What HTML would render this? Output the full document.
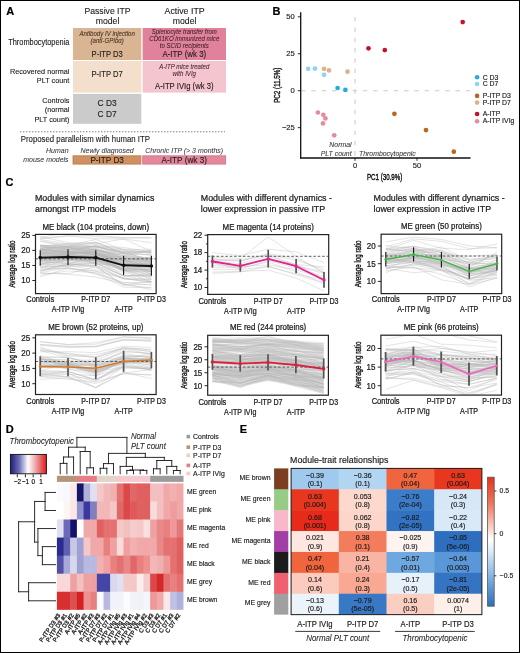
<!DOCTYPE html>
<html><head><meta charset="utf-8"><title>Figure</title><style>html,body{margin:0;padding:0;background:#fff;}body{width:520px;height:653px;overflow:hidden;}svg{display:block;will-change:transform;font-family:"Liberation Sans", sans-serif;}</style></head><body>
<svg width="520" height="653" viewBox="0 0 520 653" font-family='"Liberation Sans", sans-serif'><rect x="0.00" y="0.00" width="520.00" height="653.00" fill="#fff"/>
<text x="6.20" y="14.60" font-size="11" font-weight="bold" fill="#000" stroke="#000" stroke-width="0.20">A</text>
<text x="272.50" y="14.60" font-size="11" font-weight="bold" fill="#000" stroke="#000" stroke-width="0.20">B</text>
<text x="5.50" y="186.30" font-size="11" font-weight="bold" fill="#000" stroke="#000" stroke-width="0.20">C</text>
<text x="5.80" y="433.20" font-size="11" font-weight="bold" fill="#000" stroke="#000" stroke-width="0.20">D</text>
<text x="239.80" y="433.20" font-size="11" font-weight="bold" fill="#000" stroke="#000" stroke-width="0.20">E</text>
<text transform="translate(107.50,14.20) scale(1,1.1)" font-size="8.7" text-anchor="middle" fill="#1a1a1a" stroke="#1a1a1a" stroke-width="0.10" textLength="46" lengthAdjust="spacingAndGlyphs">Passive ITP</text>
<text transform="translate(107.50,24.00) scale(1,1.1)" font-size="8.7" text-anchor="middle" fill="#1a1a1a" stroke="#1a1a1a" stroke-width="0.10">model</text>
<text transform="translate(184.60,14.20) scale(1,1.1)" font-size="8.7" text-anchor="middle" fill="#1a1a1a" stroke="#1a1a1a" stroke-width="0.10" textLength="40" lengthAdjust="spacingAndGlyphs">Active ITP</text>
<text transform="translate(184.60,24.00) scale(1,1.1)" font-size="8.7" text-anchor="middle" fill="#1a1a1a" stroke="#1a1a1a" stroke-width="0.10">model</text>
<rect x="73.00" y="28.00" width="68.30" height="32.00" fill="#dab593"/>
<rect x="142.60" y="28.00" width="83.40" height="32.00" fill="#e0839a"/>
<rect x="73.00" y="61.00" width="68.30" height="31.60" fill="#f3dfcb"/>
<rect x="142.60" y="61.00" width="83.40" height="31.60" fill="#f4c5cf"/>
<rect x="73.00" y="93.90" width="68.30" height="29.90" fill="#cbcbcc"/>
<text transform="translate(107.15,35.60) scale(1,1.1)" font-size="6.1" text-anchor="middle" font-style="italic" fill="#3a2a1a" stroke="#3a2a1a" stroke-width="0.04" textLength="55.3" lengthAdjust="spacingAndGlyphs">Antibody IV injection</text>
<text transform="translate(107.15,42.50) scale(1,1.1)" font-size="6.1" text-anchor="middle" font-style="italic" fill="#3a2a1a" stroke="#3a2a1a" stroke-width="0.04">(anti-GPIbα)</text>
<text transform="translate(107.15,56.90) scale(1,1.1)" font-size="8.4" text-anchor="middle" fill="#1a1a1a" stroke="#1a1a1a" stroke-width="0.10" textLength="31.2" lengthAdjust="spacingAndGlyphs">P-ITP D3</text>
<text transform="translate(184.30,33.90) scale(1,1.1)" font-size="6.1" text-anchor="middle" font-style="italic" fill="#3a1a22" stroke="#3a1a22" stroke-width="0.04" textLength="65" lengthAdjust="spacingAndGlyphs">Splenocyte transfer from</text>
<text transform="translate(184.30,40.90) scale(1,1.1)" font-size="6.1" text-anchor="middle" font-style="italic" fill="#3a1a22" stroke="#3a1a22" stroke-width="0.04" textLength="70" lengthAdjust="spacingAndGlyphs">CD61KO immunized mice</text>
<text transform="translate(184.30,47.80) scale(1,1.1)" font-size="6.1" text-anchor="middle" font-style="italic" fill="#3a1a22" stroke="#3a1a22" stroke-width="0.04">to SCID recipients</text>
<text transform="translate(184.30,57.00) scale(1,1.1)" font-size="8.4" text-anchor="middle" fill="#1a1a1a" stroke="#1a1a1a" stroke-width="0.10" textLength="43.7" lengthAdjust="spacingAndGlyphs">A-ITP (wk 3)</text>
<text transform="translate(107.15,77.40) scale(1,1.1)" font-size="8.4" text-anchor="middle" fill="#1a1a1a" stroke="#1a1a1a" stroke-width="0.10" textLength="31.4" lengthAdjust="spacingAndGlyphs">P-ITP D7</text>
<text transform="translate(184.30,68.80) scale(1,1.1)" font-size="6.1" text-anchor="middle" font-style="italic" fill="#3a1a22" stroke="#3a1a22" stroke-width="0.04" textLength="49.9" lengthAdjust="spacingAndGlyphs">A-ITP mice treated</text>
<text transform="translate(184.30,75.50) scale(1,1.1)" font-size="6.1" text-anchor="middle" font-style="italic" fill="#3a1a22" stroke="#3a1a22" stroke-width="0.04">with IVIg</text>
<text transform="translate(184.30,88.80) scale(1,1.1)" font-size="8.4" text-anchor="middle" fill="#1a1a1a" stroke="#1a1a1a" stroke-width="0.10" textLength="58.5" lengthAdjust="spacingAndGlyphs">A-ITP IVIg (wk 3)</text>
<text transform="translate(107.15,106.30) scale(1,1.1)" font-size="8.4" text-anchor="middle" fill="#1a1a1a" stroke="#1a1a1a" stroke-width="0.10">C D3</text>
<text transform="translate(107.15,116.50) scale(1,1.1)" font-size="8.4" text-anchor="middle" fill="#1a1a1a" stroke="#1a1a1a" stroke-width="0.10">C D7</text>
<text transform="translate(69.40,44.90) scale(1,1.1)" font-size="7.4" text-anchor="end" fill="#1a1a1a" stroke="#1a1a1a" stroke-width="0.10">Thrombocytopenia</text>
<text transform="translate(69.40,73.50) scale(1,1.1)" font-size="7.3" text-anchor="end" fill="#1a1a1a" stroke="#1a1a1a" stroke-width="0.10">Recovered normal</text>
<text transform="translate(69.40,82.60) scale(1,1.1)" font-size="7.3" text-anchor="end" fill="#1a1a1a" stroke="#1a1a1a" stroke-width="0.10">PLT count</text>
<text transform="translate(69.40,103.30) scale(1,1.1)" font-size="7.3" text-anchor="end" fill="#1a1a1a" stroke="#1a1a1a" stroke-width="0.10">Controls</text>
<text transform="translate(69.40,112.40) scale(1,1.1)" font-size="7.3" text-anchor="end" fill="#1a1a1a" stroke="#1a1a1a" stroke-width="0.10">(normal</text>
<text transform="translate(69.40,121.50) scale(1,1.1)" font-size="7.3" text-anchor="end" fill="#1a1a1a" stroke="#1a1a1a" stroke-width="0.10">PLT count)</text>
<line x1="20.3" y1="131.75" x2="225" y2="131.75" stroke="#444" stroke-width="1" stroke-dasharray="1 2"/>
<text transform="translate(20.80,141.60) scale(1,1.1)" font-size="7.8" fill="#1a1a1a" stroke="#1a1a1a" stroke-width="0.10" textLength="129.2" lengthAdjust="spacingAndGlyphs">Proposed parallelism with human ITP</text>
<text transform="translate(68.60,152.90) scale(1,1.1)" font-size="7.0" text-anchor="end" font-style="italic" fill="#333" stroke="#333" stroke-width="0.04">Human</text>
<text transform="translate(68.60,161.80) scale(1,1.1)" font-size="7.0" text-anchor="end" font-style="italic" fill="#333" stroke="#333" stroke-width="0.04" textLength="45.3" lengthAdjust="spacingAndGlyphs">mouse models</text>
<text transform="translate(107.15,152.70) scale(1,1.1)" font-size="7.0" text-anchor="middle" font-style="italic" fill="#333" stroke="#333" stroke-width="0.04">Newly diagnosed</text>
<text transform="translate(184.20,152.70) scale(1,1.1)" font-size="7.0" text-anchor="middle" font-style="italic" fill="#333" stroke="#333" stroke-width="0.04">Chronic ITP (&gt; 3 months)</text>
<rect x="73.00" y="155.80" width="67.90" height="8.30" fill="#cf9162" stroke="#b97a48" stroke-width="0.8"/>
<rect x="142.70" y="155.80" width="83.00" height="8.30" fill="#e3879b" stroke="#d5718a" stroke-width="0.8"/>
<text transform="translate(107.15,162.60) scale(1,1.1)" font-size="8.2" text-anchor="middle" fill="#1a1a1a" stroke="#1a1a1a" stroke-width="0.10">P-ITP D3</text>
<text transform="translate(184.30,162.60) scale(1,1.1)" font-size="8.2" text-anchor="middle" fill="#1a1a1a" stroke="#1a1a1a" stroke-width="0.10">A-ITP (wk 3)</text>
<line x1="355.00" y1="12.20" x2="355.00" y2="158.00" stroke="#cccccc" stroke-width="1.1" stroke-dasharray="4.5 5.8" stroke-dashoffset="5.4"/>
<line x1="301.00" y1="90.70" x2="470.50" y2="90.70" stroke="#cccccc" stroke-width="1.1" stroke-dasharray="4.5 5.8"/>
<line x1="300.70" y1="12.20" x2="300.70" y2="158.60" stroke="#111" stroke-width="1.3"/>
<line x1="300.10" y1="158.00" x2="470.50" y2="158.00" stroke="#111" stroke-width="1.3"/>
<line x1="297.80" y1="16.80" x2="300.70" y2="16.80" stroke="#111" stroke-width="0.9"/>
<text transform="translate(294.80,19.30) scale(1,0.95)" font-size="7.6" text-anchor="end" fill="#222" stroke="#222" stroke-width="0.15">50</text>
<line x1="297.80" y1="53.75" x2="300.70" y2="53.75" stroke="#111" stroke-width="0.9"/>
<text transform="translate(294.80,56.25) scale(1,0.95)" font-size="7.6" text-anchor="end" fill="#222" stroke="#222" stroke-width="0.15">25</text>
<line x1="297.80" y1="90.70" x2="300.70" y2="90.70" stroke="#111" stroke-width="0.9"/>
<text transform="translate(294.80,93.20) scale(1,0.95)" font-size="7.6" text-anchor="end" fill="#222" stroke="#222" stroke-width="0.15">0</text>
<line x1="297.80" y1="127.65" x2="300.70" y2="127.65" stroke="#111" stroke-width="0.9"/>
<text transform="translate(294.80,130.15) scale(1,0.95)" font-size="7.6" text-anchor="end" fill="#222" stroke="#222" stroke-width="0.15">−25</text>
<line x1="355.00" y1="158.00" x2="355.00" y2="160.80" stroke="#111" stroke-width="0.9"/>
<text transform="translate(355.00,167.80) scale(1,0.95)" font-size="7.6" text-anchor="middle" fill="#222" stroke="#222" stroke-width="0.15">0</text>
<line x1="417.00" y1="158.00" x2="417.00" y2="160.80" stroke="#111" stroke-width="0.9"/>
<text transform="translate(417.00,167.80) scale(1,0.95)" font-size="7.6" text-anchor="middle" fill="#222" stroke="#222" stroke-width="0.15">50</text>
<text transform="translate(384.60,180.20) scale(1,1.1)" font-size="8.2" text-anchor="middle" stroke="#111" stroke-width="0.35" textLength="35.4" lengthAdjust="spacingAndGlyphs">PC1 (30.9%)</text>
<text transform="translate(279.6,85.2) rotate(-90)" font-size="8.2" stroke="#111" stroke-width="0.35" text-anchor="middle" fill="#111" textLength="35.2" lengthAdjust="spacingAndGlyphs">PC2 (11.5%)</text>
<circle cx="308.2" cy="68.8" r="2.35" fill="#8fd3f2"/>
<circle cx="315.0" cy="68.6" r="2.35" fill="#8fd3f2"/>
<circle cx="324.1" cy="74.8" r="2.35" fill="#8fd3f2"/>
<circle cx="324.0" cy="68.8" r="2.35" fill="#dfb08b"/>
<circle cx="329.0" cy="70.4" r="2.35" fill="#dfb08b"/>
<circle cx="347.5" cy="71.7" r="2.35" fill="#dfb08b"/>
<circle cx="337.6" cy="88.0" r="2.35" fill="#29a9e1"/>
<circle cx="345.4" cy="89.9" r="2.35" fill="#29a9e1"/>
<circle cx="317.9" cy="112.5" r="2.35" fill="#e68aa0"/>
<circle cx="323.3" cy="114.8" r="2.35" fill="#e68aa0"/>
<circle cx="325.4" cy="118.4" r="2.35" fill="#e68aa0"/>
<circle cx="323.0" cy="123.4" r="2.35" fill="#e68aa0"/>
<circle cx="334.2" cy="135.3" r="2.35" fill="#e68aa0"/>
<circle cx="368.5" cy="48.3" r="2.35" fill="#c8102e"/>
<circle cx="384.8" cy="50.1" r="2.35" fill="#c8102e"/>
<circle cx="462.7" cy="22.1" r="2.35" fill="#c8102e"/>
<circle cx="394.4" cy="113.8" r="2.35" fill="#b9651f"/>
<circle cx="426.0" cy="130.1" r="2.35" fill="#b9651f"/>
<circle cx="453.8" cy="151.7" r="2.35" fill="#b9651f"/>
<text transform="translate(351.60,147.00) scale(1,1.1)" font-size="6.9" text-anchor="end" font-style="italic" fill="#333" stroke="#333" stroke-width="0.06">Normal</text>
<text transform="translate(351.60,155.80) scale(1,1.1)" font-size="6.9" text-anchor="end" font-style="italic" fill="#333" stroke="#333" stroke-width="0.06">PLT count</text>
<text transform="translate(359.00,155.80) scale(1,1.1)" font-size="6.9" font-style="italic" fill="#333" stroke="#333" stroke-width="0.06">Thrombocytopenic</text>
<circle cx="477.1" cy="77.3" r="2.3" fill="#29a9e1"/>
<text transform="translate(482.70,79.50) scale(1,1.1)" font-size="6.9" fill="#222" stroke="#222" stroke-width="0.15">C D3</text>
<circle cx="477.1" cy="84.0" r="2.3" fill="#8fd3f2"/>
<text transform="translate(482.70,86.20) scale(1,1.1)" font-size="6.9" fill="#222" stroke="#222" stroke-width="0.15">C D7</text>
<circle cx="477.1" cy="95.9" r="2.3" fill="#b9651f"/>
<text transform="translate(482.70,98.10) scale(1,1.1)" font-size="6.9" fill="#222" stroke="#222" stroke-width="0.15">P-ITP D3</text>
<circle cx="477.1" cy="102.6" r="2.3" fill="#dfb08b"/>
<text transform="translate(482.70,104.80) scale(1,1.1)" font-size="6.9" fill="#222" stroke="#222" stroke-width="0.15">P-ITP D7</text>
<circle cx="477.1" cy="114.0" r="2.3" fill="#c8102e"/>
<text transform="translate(482.70,116.20) scale(1,1.1)" font-size="6.9" fill="#222" stroke="#222" stroke-width="0.15">A-ITP</text>
<circle cx="477.1" cy="121.2" r="2.3" fill="#e68aa0"/>
<text transform="translate(482.70,123.40) scale(1,1.1)" font-size="6.9" fill="#222" stroke="#222" stroke-width="0.15">A-ITP IVIg</text>
<text transform="translate(35.00,201.00) scale(1,1.1)" font-size="8.85" fill="#1a1a1a" stroke="#1a1a1a" stroke-width="0.22">Modules with similar dynamics</text>
<text transform="translate(35.00,212.00) scale(1,1.1)" font-size="8.85" fill="#1a1a1a" stroke="#1a1a1a" stroke-width="0.22">amongst ITP models</text>
<text transform="translate(200.80,201.00) scale(1,1.1)" font-size="8.85" fill="#1a1a1a" stroke="#1a1a1a" stroke-width="0.22">Modules with different dynamics -</text>
<text transform="translate(200.80,212.00) scale(1,1.1)" font-size="8.85" fill="#1a1a1a" stroke="#1a1a1a" stroke-width="0.22">lower expression in passive ITP</text>
<text transform="translate(373.60,201.00) scale(1,1.1)" font-size="8.85" fill="#1a1a1a" stroke="#1a1a1a" stroke-width="0.22">Modules with different dynamics -</text>
<text transform="translate(373.60,212.00) scale(1,1.1)" font-size="8.85" fill="#1a1a1a" stroke="#1a1a1a" stroke-width="0.22">lower expression in active ITP</text>
<defs>
<clipPath id="cp0"><rect x="35.5" y="234.4" width="120.6" height="59.20000000000002"/></clipPath>
<clipPath id="cp1"><rect x="207.7" y="234.6" width="121.0" height="59.79999999999998"/></clipPath>
<clipPath id="cp2"><rect x="381.1" y="234.2" width="120.59999999999997" height="59.400000000000034"/></clipPath>
<clipPath id="cp3"><rect x="35.5" y="334.8" width="120.6" height="59.69999999999999"/></clipPath>
<clipPath id="cp4"><rect x="207.7" y="335.3" width="120.69999999999999" height="59.89999999999998"/></clipPath>
<clipPath id="cp5"><rect x="380.9" y="335.2" width="120.60000000000002" height="59.900000000000034"/></clipPath>
</defs>
<text transform="translate(95.80,229.50) scale(1,1.1)" font-size="7.9" text-anchor="middle" fill="#1a1a1a" stroke="#1a1a1a" stroke-width="0.22">ME black (104 proteins, down)</text>
<g clip-path="url(#cp0)" fill="none" stroke="#b8b8b8" stroke-width="0.55" stroke-opacity="0.7">
<path d="M40.2,256.4 L68.0,257.7 L95.8,258.3 L123.6,269.2 L151.4,269.4 M40.2,246.0 L68.0,244.6 L95.8,247.2 L123.6,252.4 L151.4,254.9 M40.2,266.4 L68.0,266.2 L95.8,266.4 L123.6,284.7 L151.4,287.8 M40.2,263.8 L68.0,261.0 L95.8,262.2 L123.6,270.7 L151.4,276.8 M40.2,252.3 L68.0,254.6 L95.8,249.5 L123.6,259.4 L151.4,259.5 M40.2,262.4 L68.0,260.6 L95.8,260.4 L123.6,267.8 L151.4,271.4 M40.2,261.6 L68.0,259.8 L95.8,256.0 L123.6,270.6 L151.4,269.7 M40.2,256.2 L68.0,252.0 L95.8,249.6 L123.6,266.2 L151.4,263.1 M40.2,258.6 L68.0,254.8 L95.8,256.6 L123.6,269.4 L151.4,264.6 M40.2,248.1 L68.0,246.9 L95.8,250.1 L123.6,257.4 L151.4,263.9 M40.2,252.5 L68.0,251.8 L95.8,254.3 L123.6,261.2 L151.4,262.0 M40.2,250.9 L68.0,249.3 L95.8,245.9 L123.6,247.5 L151.4,252.0 M40.2,276.9 L68.0,268.3 L95.8,271.0 L123.6,285.1 L151.4,281.4 M40.2,246.7 L68.0,246.6 L95.8,246.8 L123.6,248.8 L151.4,253.7 M40.2,250.3 L68.0,255.2 L95.8,249.0 L123.6,256.2 L151.4,259.6 M40.2,272.6 L68.0,267.7 L95.8,274.0 L123.6,282.9 L151.4,282.0 M40.2,261.8 L68.0,263.5 L95.8,265.4 L123.6,275.2 L151.4,276.8 M40.2,251.8 L68.0,256.0 L95.8,255.8 L123.6,259.7 L151.4,265.0 M40.2,260.1 L68.0,258.2 L95.8,263.0 L123.6,276.4 L151.4,275.1 M40.2,257.6 L68.0,253.0 L95.8,259.2 L123.6,261.5 L151.4,271.7 M40.2,260.2 L68.0,258.3 L95.8,259.3 L123.6,270.2 L151.4,273.3 M40.2,253.0 L68.0,254.6 L95.8,254.0 L123.6,260.8 L151.4,264.7 M40.2,248.3 L68.0,244.8 L95.8,249.5 L123.6,258.2 L151.4,260.0 M40.2,253.4 L68.0,256.2 L95.8,254.9 L123.6,258.5 L151.4,274.5 M40.2,263.8 L68.0,262.5 L95.8,263.2 L123.6,275.8 L151.4,275.0 M40.2,254.8 L68.0,247.3 L95.8,252.8 L123.6,263.0 L151.4,263.8 M40.2,257.6 L68.0,263.5 L95.8,258.4 L123.6,263.0 L151.4,272.1 M40.2,253.8 L68.0,253.7 L95.8,252.7 L123.6,269.8 L151.4,268.0 M40.2,256.8 L68.0,255.1 L95.8,264.4 L123.6,263.8 L151.4,274.1 M40.2,254.2 L68.0,249.8 L95.8,248.0 L123.6,258.1 L151.4,259.0 M40.2,249.1 L68.0,249.6 L95.8,246.4 L123.6,253.3 L151.4,259.5 M40.2,237.3 L68.0,232.9 L95.8,236.7 L123.6,238.0 L151.4,237.6 M40.2,252.3 L68.0,257.3 L95.8,257.7 L123.6,260.0 L151.4,267.1 M40.2,267.4 L68.0,259.7 L95.8,261.3 L123.6,269.0 L151.4,279.1 M40.2,258.6 L68.0,253.4 L95.8,252.0 L123.6,266.7 L151.4,261.3 M40.2,248.5 L68.0,252.8 L95.8,245.3 L123.6,255.1 L151.4,258.6 M40.2,251.5 L68.0,248.7 L95.8,255.2 L123.6,256.8 L151.4,257.7 M40.2,244.9 L68.0,246.4 L95.8,242.9 L123.6,250.1 L151.4,251.8 M40.2,245.3 L68.0,250.3 L95.8,246.4 L123.6,256.4 L151.4,249.9 M40.2,254.8 L68.0,252.9 L95.8,251.5 L123.6,260.8 L151.4,259.0 M40.2,253.5 L68.0,252.1 L95.8,252.4 L123.6,266.6 L151.4,264.0 M40.2,273.0 L68.0,273.7 L95.8,266.6 L123.6,285.2 L151.4,284.3 M40.2,257.3 L68.0,258.1 L95.8,256.5 L123.6,260.3 L151.4,267.9 M40.2,249.0 L68.0,251.8 L95.8,254.9 L123.6,260.7 L151.4,257.7 M40.2,270.0 L68.0,264.9 L95.8,265.6 L123.6,279.3 L151.4,279.5 M40.2,257.4 L68.0,257.8 L95.8,256.0 L123.6,259.6 L151.4,266.4 M40.2,264.7 L68.0,265.5 L95.8,262.4 L123.6,276.0 L151.4,273.8 M40.2,273.2 L68.0,274.1 L95.8,277.1 L123.6,283.7 L151.4,289.8 M40.2,275.2 L68.0,270.9 L95.8,272.7 L123.6,282.3 L151.4,285.3 M40.2,249.7 L68.0,247.2 L95.8,249.4 L123.6,256.4 L151.4,266.4 M40.2,245.4 L68.0,249.4 L95.8,250.4 L123.6,249.7 L151.4,263.2 M40.2,245.9 L68.0,254.0 L95.8,250.7 L123.6,253.8 L151.4,262.1 M40.2,249.0 L68.0,253.3 L95.8,251.9 L123.6,257.8 L151.4,258.2 M40.2,256.5 L68.0,257.9 L95.8,256.8 L123.6,261.6 L151.4,266.2 M40.2,264.5 L68.0,255.1 L95.8,259.1 L123.6,270.0 L151.4,282.6 M40.2,249.6 L68.0,246.6 L95.8,250.3 L123.6,258.4 L151.4,258.6 M40.2,268.1 L68.0,268.7 L95.8,271.2 L123.6,278.0 L151.4,279.2 M40.2,268.3 L68.0,264.8 L95.8,265.3 L123.6,278.2 L151.4,282.8 M40.2,236.6 L68.0,242.6 L95.8,243.7 L123.6,239.0 L151.4,242.7 M40.2,239.5 L68.0,244.0 L95.8,242.1 L123.6,253.6 L151.4,251.1 M40.2,254.8 L68.0,257.4 L95.8,256.4 L123.6,263.1 L151.4,265.6 M40.2,250.2 L68.0,251.3 L95.8,249.3 L123.6,257.9 L151.4,262.7 M40.2,260.6 L68.0,260.1 L95.8,259.8 L123.6,269.8 L151.4,271.7 M40.2,259.9 L68.0,255.2 L95.8,254.2 L123.6,263.9 L151.4,268.1 M40.2,254.7 L68.0,256.5 L95.8,252.4 L123.6,262.7 L151.4,259.6 M40.2,270.8 L68.0,265.7 L95.8,259.7 L123.6,275.2 L151.4,281.0 M40.2,260.3 L68.0,259.6 L95.8,260.7 L123.6,266.5 L151.4,271.3 M40.2,254.3 L68.0,251.4 L95.8,253.6 L123.6,261.0 L151.4,269.8 M40.2,255.0 L68.0,257.0 L95.8,254.2 L123.6,263.5 L151.4,264.8 M40.2,250.8 L68.0,253.8 L95.8,257.7 L123.6,265.7 L151.4,260.1 M40.2,256.1 L68.0,255.4 L95.8,258.1 L123.6,270.7 L151.4,268.9 M40.2,250.0 L68.0,250.7 L95.8,253.1 L123.6,258.0 L151.4,261.1 M40.2,254.0 L68.0,254.3 L95.8,252.6 L123.6,265.3 L151.4,266.2 M40.2,259.4 L68.0,256.3 L95.8,260.4 L123.6,266.0 L151.4,264.4 M40.2,251.4 L68.0,251.7 L95.8,255.0 L123.6,253.1 L151.4,259.1 M40.2,249.5 L68.0,247.7 L95.8,252.2 L123.6,251.4 L151.4,252.7 M40.2,270.6 L68.0,267.6 L95.8,273.4 L123.6,287.2 L151.4,287.8 M40.2,264.2 L68.0,259.8 L95.8,259.6 L123.6,267.9 L151.4,270.1 M40.2,241.1 L68.0,247.4 L95.8,246.2 L123.6,253.2 L151.4,255.2 M40.2,256.3 L68.0,254.7 L95.8,260.0 L123.6,268.5 L151.4,267.1 M40.2,258.0 L68.0,256.9 L95.8,258.9 L123.6,263.7 L151.4,267.0 M40.2,258.1 L68.0,256.3 L95.8,262.7 L123.6,267.8 L151.4,266.9 M40.2,266.9 L68.0,265.9 L95.8,269.7 L123.6,278.7 L151.4,281.7 M40.2,250.6 L68.0,252.0 L95.8,254.4 L123.6,260.1 L151.4,262.0 M40.2,249.2 L68.0,251.6 L95.8,253.6 L123.6,258.3 L151.4,261.5 M40.2,264.6 L68.0,264.6 L95.8,263.4 L123.6,272.7 L151.4,278.2 M40.2,238.5 L68.0,235.6 L95.8,238.8 L123.6,238.9 L151.4,251.4 M40.2,260.9 L68.0,259.3 L95.8,255.6 L123.6,270.0 L151.4,269.4 M40.2,247.3 L68.0,248.4 L95.8,250.6 L123.6,255.3 L151.4,262.3 M40.2,249.1 L68.0,246.0 L95.8,242.3 L123.6,253.6 L151.4,254.8 M40.2,246.6 L68.0,248.7 L95.8,246.8 L123.6,251.3 L151.4,252.8 M40.2,257.2 L68.0,256.9 L95.8,261.2 L123.6,270.3 L151.4,275.0 M40.2,246.5 L68.0,243.3 L95.8,246.7 L123.6,252.9 L151.4,250.3 M40.2,245.4 L68.0,247.1 L95.8,244.3 L123.6,251.7 L151.4,252.4 M40.2,241.0 L68.0,245.3 L95.8,239.5 L123.6,249.8 L151.4,249.1 M40.2,260.8 L68.0,264.2 L95.8,256.1 L123.6,265.8 L151.4,276.3 M40.2,271.5 L68.0,263.4 L95.8,267.5 L123.6,278.2 L151.4,281.7 M40.2,259.4 L68.0,256.1 L95.8,259.9 L123.6,265.3 L151.4,266.4 M40.2,252.7 L68.0,254.0 L95.8,252.0 L123.6,261.1 L151.4,256.8 M40.2,250.0 L68.0,250.8 L95.8,251.9 L123.6,259.7 L151.4,259.9 M40.2,252.1 L68.0,251.7 L95.8,248.7 L123.6,263.4 L151.4,263.3 M40.2,238.8 L68.0,236.0 L95.8,235.3 L123.6,237.5 L151.4,238.0 M40.2,256.6 L68.0,256.9 L95.8,255.6 L123.6,272.0 L151.4,271.3 M40.2,258.3 L68.0,257.8 L95.8,254.2 L123.6,266.0 L151.4,264.2"/>
</g>
<line x1="35.50" y1="258.80" x2="156.10" y2="258.80" stroke="#3a3a3a" stroke-width="0.8" stroke-dasharray="2.6 1.8"/>
<line x1="40.20" y1="250.30" x2="40.20" y2="265.70" stroke="#111111" stroke-width="1.1"/>
<line x1="68.00" y1="249.20" x2="68.00" y2="264.90" stroke="#111111" stroke-width="1.1"/>
<line x1="95.80" y1="250.30" x2="95.80" y2="265.80" stroke="#111111" stroke-width="1.1"/>
<line x1="123.60" y1="255.80" x2="123.60" y2="275.00" stroke="#111111" stroke-width="1.1"/>
<line x1="151.40" y1="255.80" x2="151.40" y2="275.70" stroke="#111111" stroke-width="1.1"/>
<path d="M40.2,257.6 L68.0,257.0 L95.8,257.6 L123.6,265.3 L151.4,266.0" fill="none" stroke="#111111" stroke-width="1.9" stroke-linejoin="round"/>
<circle cx="40.2" cy="257.6" r="1.80" fill="#111111"/>
<circle cx="68.0" cy="257.0" r="1.80" fill="#111111"/>
<circle cx="95.8" cy="257.6" r="1.80" fill="#111111"/>
<circle cx="123.6" cy="265.3" r="1.80" fill="#111111"/>
<circle cx="151.4" cy="266.0" r="1.80" fill="#111111"/>
<rect x="35.5" y="234.4" width="120.6" height="59.20000000000002" fill="none" stroke="#222" stroke-width="1.2"/>
<line x1="32.30" y1="280.50" x2="35.50" y2="280.50" stroke="#111" stroke-width="0.9"/>
<text transform="translate(30.10,283.30) scale(1,1.1)" font-size="8.0" text-anchor="end" fill="#1a1a1a" stroke="#1a1a1a" stroke-width="0.22">10</text>
<line x1="32.30" y1="265.47" x2="35.50" y2="265.47" stroke="#111" stroke-width="0.9"/>
<text transform="translate(30.10,268.27) scale(1,1.1)" font-size="8.0" text-anchor="end" fill="#1a1a1a" stroke="#1a1a1a" stroke-width="0.22">15</text>
<line x1="32.30" y1="250.43" x2="35.50" y2="250.43" stroke="#111" stroke-width="0.9"/>
<text transform="translate(30.10,253.23) scale(1,1.1)" font-size="8.0" text-anchor="end" fill="#1a1a1a" stroke="#1a1a1a" stroke-width="0.22">20</text>
<line x1="32.30" y1="235.40" x2="35.50" y2="235.40" stroke="#111" stroke-width="0.9"/>
<text transform="translate(30.10,238.20) scale(1,1.1)" font-size="8.0" text-anchor="end" fill="#1a1a1a" stroke="#1a1a1a" stroke-width="0.22">25</text>
<text transform="translate(15.2,264.0) rotate(-90)" font-size="8.4" text-anchor="middle" fill="#1a1a1a" stroke="#1a1a1a" stroke-width="0.4" textLength="46.9" lengthAdjust="spacingAndGlyphs">Average log ratio</text>
<text transform="translate(40.20,302.00) scale(1,1.1)" font-size="7.5" text-anchor="middle" fill="#1a1a1a" stroke="#1a1a1a" stroke-width="0.22">Controls</text>
<text transform="translate(68.00,312.00) scale(1,1.1)" font-size="7.5" text-anchor="middle" fill="#1a1a1a" stroke="#1a1a1a" stroke-width="0.22" textLength="32.6" lengthAdjust="spacingAndGlyphs">A-ITP IVIg</text>
<text transform="translate(95.80,302.00) scale(1,1.1)" font-size="7.5" text-anchor="middle" fill="#1a1a1a" stroke="#1a1a1a" stroke-width="0.22" textLength="28.9" lengthAdjust="spacingAndGlyphs">P-ITP D7</text>
<text transform="translate(123.60,312.00) scale(1,1.1)" font-size="7.5" text-anchor="middle" fill="#1a1a1a" stroke="#1a1a1a" stroke-width="0.22" textLength="18.2" lengthAdjust="spacingAndGlyphs">A-ITP</text>
<text transform="translate(151.40,302.00) scale(1,1.1)" font-size="7.5" text-anchor="middle" fill="#1a1a1a" stroke="#1a1a1a" stroke-width="0.22" textLength="28.9" lengthAdjust="spacingAndGlyphs">P-ITP D3</text>
<text transform="translate(268.20,229.70) scale(1,1.1)" font-size="7.9" text-anchor="middle" fill="#1a1a1a" stroke="#1a1a1a" stroke-width="0.22">ME magenta (14 proteins)</text>
<g clip-path="url(#cp1)" fill="none" stroke="#b8b8b8" stroke-width="0.55" stroke-opacity="0.7">
<path d="M212.4,257.0 L240.3,258.7 L268.2,236.9 L296.1,256.1 L324.0,273.6 M212.4,261.0 L240.3,263.6 L268.2,255.9 L296.1,265.6 L324.0,272.0 M212.4,252.6 L240.3,255.6 L268.2,249.2 L296.1,251.9 L324.0,262.6 M212.4,258.6 L240.3,261.1 L268.2,254.7 L296.1,264.6 L324.0,266.9 M212.4,260.7 L240.3,259.7 L268.2,254.9 L296.1,260.1 L324.0,269.4 M212.4,272.0 L240.3,271.4 L268.2,270.1 L296.1,278.0 L324.0,290.9 M212.4,269.3 L240.3,269.5 L268.2,266.5 L296.1,273.7 L324.0,280.4 M212.4,267.1 L240.3,267.8 L268.2,262.1 L296.1,271.9 L324.0,283.4 M212.4,260.4 L240.3,266.7 L268.2,258.7 L296.1,265.9 L324.0,273.6 M212.4,263.5 L240.3,267.2 L268.2,258.7 L296.1,264.5 L324.0,278.5 M212.4,259.1 L240.3,261.2 L268.2,253.5 L296.1,258.2 L324.0,271.6 M212.4,262.7 L240.3,269.0 L268.2,260.5 L296.1,268.4 L324.0,276.5 M212.4,273.3 L240.3,272.0 L268.2,266.3 L296.1,274.7 L324.0,282.9 M212.4,265.5 L240.3,266.6 L268.2,264.8 L296.1,269.7 L324.0,278.9"/>
</g>
<line x1="207.70" y1="256.30" x2="328.70" y2="256.30" stroke="#3a3a3a" stroke-width="0.8" stroke-dasharray="2.6 1.8"/>
<line x1="212.40" y1="255.50" x2="212.40" y2="267.60" stroke="#555555" stroke-width="1.7"/>
<line x1="240.30" y1="259.40" x2="240.30" y2="271.60" stroke="#555555" stroke-width="1.7"/>
<line x1="268.20" y1="249.80" x2="268.20" y2="267.60" stroke="#555555" stroke-width="1.7"/>
<line x1="296.10" y1="258.90" x2="296.10" y2="273.30" stroke="#555555" stroke-width="1.7"/>
<line x1="324.00" y1="271.90" x2="324.00" y2="287.80" stroke="#555555" stroke-width="1.7"/>
<path d="M212.4,261.5 L240.3,265.8 L268.2,258.9 L296.1,266.2 L324.0,280.0" fill="none" stroke="#e3238f" stroke-width="1.8" stroke-linejoin="round"/>
<circle cx="212.4" cy="261.5" r="1.71" fill="#e3238f"/>
<circle cx="240.3" cy="265.8" r="1.71" fill="#e3238f"/>
<circle cx="268.2" cy="258.9" r="1.71" fill="#e3238f"/>
<circle cx="296.1" cy="266.2" r="1.71" fill="#e3238f"/>
<circle cx="324.0" cy="280.0" r="1.71" fill="#e3238f"/>
<rect x="207.7" y="234.6" width="121.0" height="59.79999999999998" fill="none" stroke="#222" stroke-width="1.2"/>
<line x1="204.50" y1="287.50" x2="207.70" y2="287.50" stroke="#111" stroke-width="0.9"/>
<text transform="translate(202.30,290.30) scale(1,1.1)" font-size="8.0" text-anchor="end" fill="#1a1a1a" stroke="#1a1a1a" stroke-width="0.22">10</text>
<line x1="204.50" y1="270.07" x2="207.70" y2="270.07" stroke="#111" stroke-width="0.9"/>
<text transform="translate(202.30,272.87) scale(1,1.1)" font-size="8.0" text-anchor="end" fill="#1a1a1a" stroke="#1a1a1a" stroke-width="0.22">14</text>
<line x1="204.50" y1="252.63" x2="207.70" y2="252.63" stroke="#111" stroke-width="0.9"/>
<text transform="translate(202.30,255.43) scale(1,1.1)" font-size="8.0" text-anchor="end" fill="#1a1a1a" stroke="#1a1a1a" stroke-width="0.22">18</text>
<line x1="204.50" y1="235.20" x2="207.70" y2="235.20" stroke="#111" stroke-width="0.9"/>
<text transform="translate(202.30,238.00) scale(1,1.1)" font-size="8.0" text-anchor="end" fill="#1a1a1a" stroke="#1a1a1a" stroke-width="0.22">22</text>
<line x1="205.90" y1="278.78" x2="207.70" y2="278.78" stroke="#111" stroke-width="0.8"/>
<line x1="205.90" y1="261.35" x2="207.70" y2="261.35" stroke="#111" stroke-width="0.8"/>
<line x1="205.90" y1="243.92" x2="207.70" y2="243.92" stroke="#111" stroke-width="0.8"/>
<text transform="translate(187.4,264.5) rotate(-90)" font-size="8.4" text-anchor="middle" fill="#1a1a1a" stroke="#1a1a1a" stroke-width="0.4" textLength="46.9" lengthAdjust="spacingAndGlyphs">Average log ratio</text>
<text transform="translate(212.40,303.60) scale(1,1.1)" font-size="7.5" text-anchor="middle" fill="#1a1a1a" stroke="#1a1a1a" stroke-width="0.22">Controls</text>
<text transform="translate(240.30,313.60) scale(1,1.1)" font-size="7.5" text-anchor="middle" fill="#1a1a1a" stroke="#1a1a1a" stroke-width="0.22" textLength="32.6" lengthAdjust="spacingAndGlyphs">A-ITP IVIg</text>
<text transform="translate(268.20,303.60) scale(1,1.1)" font-size="7.5" text-anchor="middle" fill="#1a1a1a" stroke="#1a1a1a" stroke-width="0.22" textLength="28.9" lengthAdjust="spacingAndGlyphs">P-ITP D7</text>
<text transform="translate(296.10,313.60) scale(1,1.1)" font-size="7.5" text-anchor="middle" fill="#1a1a1a" stroke="#1a1a1a" stroke-width="0.22" textLength="18.2" lengthAdjust="spacingAndGlyphs">A-ITP</text>
<text transform="translate(324.00,303.60) scale(1,1.1)" font-size="7.5" text-anchor="middle" fill="#1a1a1a" stroke="#1a1a1a" stroke-width="0.22" textLength="28.9" lengthAdjust="spacingAndGlyphs">P-ITP D3</text>
<text transform="translate(441.40,229.30) scale(1,1.1)" font-size="7.9" text-anchor="middle" fill="#1a1a1a" stroke="#1a1a1a" stroke-width="0.22">ME green (50 proteins)</text>
<g clip-path="url(#cp2)" fill="none" stroke="#b8b8b8" stroke-width="0.55" stroke-opacity="0.7">
<path d="M385.8,252.6 L413.6,248.4 L441.4,255.1 L469.2,262.5 L497.0,255.3 M385.8,257.7 L413.6,262.6 L441.4,265.6 L469.2,276.3 L497.0,268.0 M385.8,272.5 L413.6,263.7 L441.4,268.0 L469.2,279.8 L497.0,268.2 M385.8,256.3 L413.6,251.8 L441.4,257.5 L469.2,264.2 L497.0,266.9 M385.8,269.4 L413.6,256.6 L441.4,264.2 L469.2,271.4 L497.0,263.0 M385.8,259.0 L413.6,257.0 L441.4,262.4 L469.2,272.6 L497.0,264.0 M385.8,258.0 L413.6,255.9 L441.4,257.4 L469.2,269.0 L497.0,265.5 M385.8,253.9 L413.6,253.5 L441.4,251.0 L469.2,263.6 L497.0,262.9 M385.8,249.7 L413.6,251.4 L441.4,247.2 L469.2,260.4 L497.0,255.4 M385.8,257.3 L413.6,258.1 L441.4,256.0 L469.2,269.0 L497.0,264.7 M385.8,255.6 L413.6,251.3 L441.4,258.3 L469.2,267.8 L497.0,268.0 M385.8,259.9 L413.6,255.6 L441.4,264.5 L469.2,274.8 L497.0,264.8 M385.8,259.0 L413.6,254.0 L441.4,262.7 L469.2,270.1 L497.0,269.6 M385.8,257.1 L413.6,253.9 L441.4,255.5 L469.2,262.1 L497.0,265.6 M385.8,261.4 L413.6,262.8 L441.4,263.5 L469.2,274.2 L497.0,270.3 M385.8,258.2 L413.6,249.7 L441.4,260.0 L469.2,268.1 L497.0,262.9 M385.8,259.3 L413.6,258.6 L441.4,264.4 L469.2,272.7 L497.0,264.6 M385.8,257.5 L413.6,252.6 L441.4,259.4 L469.2,274.4 L497.0,259.4 M385.8,247.0 L413.6,238.9 L441.4,241.3 L469.2,248.6 L497.0,247.7 M385.8,262.9 L413.6,257.6 L441.4,259.6 L469.2,276.3 L497.0,269.9 M385.8,263.2 L413.6,256.6 L441.4,261.5 L469.2,269.7 L497.0,267.3 M385.8,265.8 L413.6,262.6 L441.4,269.0 L469.2,278.5 L497.0,270.1 M385.8,245.6 L413.6,248.6 L441.4,251.7 L469.2,267.5 L497.0,252.2 M385.8,263.8 L413.6,260.0 L441.4,269.6 L469.2,275.8 L497.0,270.8 M385.8,271.0 L413.6,266.7 L441.4,279.8 L469.2,284.5 L497.0,278.3 M385.8,253.9 L413.6,248.8 L441.4,256.9 L469.2,264.1 L497.0,263.0 M385.8,255.0 L413.6,250.4 L441.4,249.7 L469.2,263.1 L497.0,260.5 M385.8,268.7 L413.6,264.0 L441.4,266.9 L469.2,279.6 L497.0,272.6 M385.8,255.4 L413.6,257.0 L441.4,261.9 L469.2,268.6 L497.0,265.6 M385.8,261.8 L413.6,258.5 L441.4,260.8 L469.2,272.2 L497.0,270.4 M385.8,254.8 L413.6,255.0 L441.4,254.7 L469.2,267.8 L497.0,263.2 M385.8,249.4 L413.6,251.4 L441.4,252.6 L469.2,266.3 L497.0,254.1 M385.8,259.1 L413.6,261.2 L441.4,262.0 L469.2,268.7 L497.0,275.2 M385.8,260.4 L413.6,259.3 L441.4,265.4 L469.2,268.4 L497.0,268.5 M385.8,268.4 L413.6,272.7 L441.4,270.3 L469.2,286.9 L497.0,277.1 M385.8,248.9 L413.6,249.6 L441.4,254.5 L469.2,256.3 L497.0,254.5 M385.8,262.3 L413.6,260.7 L441.4,265.0 L469.2,284.5 L497.0,272.2 M385.8,250.0 L413.6,246.6 L441.4,259.4 L469.2,262.4 L497.0,257.7 M385.8,242.0 L413.6,237.0 L441.4,239.5 L469.2,245.8 L497.0,247.9 M385.8,251.9 L413.6,246.3 L441.4,252.3 L469.2,260.3 L497.0,258.7 M385.8,267.4 L413.6,267.2 L441.4,274.5 L469.2,284.2 L497.0,274.8 M385.8,265.8 L413.6,261.9 L441.4,266.6 L469.2,280.3 L497.0,277.7 M385.8,248.5 L413.6,246.2 L441.4,250.9 L469.2,259.1 L497.0,257.4 M385.8,267.7 L413.6,265.1 L441.4,270.0 L469.2,283.1 L497.0,271.4 M385.8,266.4 L413.6,268.3 L441.4,269.8 L469.2,278.3 L497.0,274.6 M385.8,263.6 L413.6,261.0 L441.4,270.6 L469.2,278.9 L497.0,270.4 M385.8,261.6 L413.6,257.5 L441.4,261.9 L469.2,272.3 L497.0,267.5 M385.8,260.5 L413.6,258.6 L441.4,263.3 L469.2,273.8 L497.0,271.7 M385.8,260.9 L413.6,260.8 L441.4,262.9 L469.2,272.2 L497.0,268.3 M385.8,249.5 L413.6,240.3 L441.4,248.3 L469.2,249.7 L497.0,243.9"/>
</g>
<line x1="381.10" y1="256.00" x2="501.70" y2="256.00" stroke="#3a3a3a" stroke-width="0.8" stroke-dasharray="2.6 1.8"/>
<line x1="385.80" y1="252.00" x2="385.80" y2="266.40" stroke="#111111" stroke-width="1.1"/>
<line x1="413.60" y1="247.30" x2="413.60" y2="261.50" stroke="#111111" stroke-width="1.1"/>
<line x1="441.40" y1="252.00" x2="441.40" y2="267.60" stroke="#111111" stroke-width="1.1"/>
<line x1="469.20" y1="264.10" x2="469.20" y2="278.80" stroke="#111111" stroke-width="1.1"/>
<line x1="497.00" y1="256.70" x2="497.00" y2="270.50" stroke="#111111" stroke-width="1.1"/>
<path d="M385.8,259.4 L413.6,254.6 L441.4,260.1 L469.2,271.4 L497.0,263.6" fill="none" stroke="#44b447" stroke-width="1.5" stroke-linejoin="round"/>
<circle cx="385.8" cy="259.4" r="1.42" fill="#44b447"/>
<circle cx="413.6" cy="254.6" r="1.42" fill="#44b447"/>
<circle cx="441.4" cy="260.1" r="1.42" fill="#44b447"/>
<circle cx="469.2" cy="271.4" r="1.42" fill="#44b447"/>
<circle cx="497.0" cy="263.6" r="1.42" fill="#44b447"/>
<rect x="381.1" y="234.2" width="120.59999999999997" height="59.400000000000034" fill="none" stroke="#222" stroke-width="1.2"/>
<line x1="377.90" y1="281.40" x2="381.10" y2="281.40" stroke="#111" stroke-width="0.9"/>
<text transform="translate(375.70,284.20) scale(1,1.1)" font-size="8.0" text-anchor="end" fill="#1a1a1a" stroke="#1a1a1a" stroke-width="0.22">10</text>
<line x1="377.90" y1="263.70" x2="381.10" y2="263.70" stroke="#111" stroke-width="0.9"/>
<text transform="translate(375.70,266.50) scale(1,1.1)" font-size="8.0" text-anchor="end" fill="#1a1a1a" stroke="#1a1a1a" stroke-width="0.22">15</text>
<line x1="377.90" y1="246.00" x2="381.10" y2="246.00" stroke="#111" stroke-width="0.9"/>
<text transform="translate(375.70,248.80) scale(1,1.1)" font-size="8.0" text-anchor="end" fill="#1a1a1a" stroke="#1a1a1a" stroke-width="0.22">20</text>
<text transform="translate(360.8,263.9) rotate(-90)" font-size="8.4" text-anchor="middle" fill="#1a1a1a" stroke="#1a1a1a" stroke-width="0.4" textLength="46.9" lengthAdjust="spacingAndGlyphs">Average log ratio</text>
<text transform="translate(385.80,302.00) scale(1,1.1)" font-size="7.5" text-anchor="middle" fill="#1a1a1a" stroke="#1a1a1a" stroke-width="0.22">Controls</text>
<text transform="translate(413.60,312.00) scale(1,1.1)" font-size="7.5" text-anchor="middle" fill="#1a1a1a" stroke="#1a1a1a" stroke-width="0.22" textLength="32.6" lengthAdjust="spacingAndGlyphs">A-ITP IVIg</text>
<text transform="translate(441.40,302.00) scale(1,1.1)" font-size="7.5" text-anchor="middle" fill="#1a1a1a" stroke="#1a1a1a" stroke-width="0.22" textLength="28.9" lengthAdjust="spacingAndGlyphs">P-ITP D7</text>
<text transform="translate(469.20,312.00) scale(1,1.1)" font-size="7.5" text-anchor="middle" fill="#1a1a1a" stroke="#1a1a1a" stroke-width="0.22" textLength="18.2" lengthAdjust="spacingAndGlyphs">A-ITP</text>
<text transform="translate(497.00,302.00) scale(1,1.1)" font-size="7.5" text-anchor="middle" fill="#1a1a1a" stroke="#1a1a1a" stroke-width="0.22" textLength="28.9" lengthAdjust="spacingAndGlyphs">P-ITP D3</text>
<text transform="translate(95.80,329.90) scale(1,1.1)" font-size="7.9" text-anchor="middle" fill="#1a1a1a" stroke="#1a1a1a" stroke-width="0.22">ME brown (52 proteins, up)</text>
<g clip-path="url(#cp3)" fill="none" stroke="#b8b8b8" stroke-width="0.55" stroke-opacity="0.7">
<path d="M40.2,342.0 L68.0,344.6 L95.8,344.2 L123.6,336.9 L151.4,338.7 M40.2,344.5 L68.0,346.7 L95.8,346.3 L123.6,339.0 L151.4,339.9 M40.2,344.5 L68.0,346.2 L95.8,346.4 L123.6,340.1 L151.4,340.9 M40.2,341.5 L68.0,344.5 L95.8,342.7 L123.6,336.9 L151.4,337.7 M40.2,345.4 L68.0,347.5 L95.8,346.9 L123.6,339.9 L151.4,341.3 M40.2,373.6 L68.0,376.7 L95.8,379.2 L123.6,365.7 L151.4,367.4 M40.2,366.8 L68.0,365.5 L95.8,372.8 L123.6,360.4 L151.4,362.4 M40.2,360.2 L68.0,366.5 L95.8,370.9 L123.6,361.6 L151.4,363.2 M40.2,348.1 L68.0,356.2 L95.8,356.6 L123.6,347.6 L151.4,349.7 M40.2,359.0 L68.0,360.0 L95.8,360.0 L123.6,349.4 L151.4,353.9 M40.2,373.2 L68.0,373.9 L95.8,381.7 L123.6,363.8 L151.4,370.6 M40.2,359.4 L68.0,364.0 L95.8,370.6 L123.6,362.5 L151.4,361.8 M40.2,350.6 L68.0,353.1 L95.8,357.3 L123.6,348.6 L151.4,351.6 M40.2,358.4 L68.0,367.0 L95.8,368.2 L123.6,357.7 L151.4,361.2 M40.2,365.7 L68.0,364.4 L95.8,372.6 L123.6,362.6 L151.4,368.8 M40.2,349.6 L68.0,353.9 L95.8,358.2 L123.6,347.8 L151.4,351.5 M40.2,363.5 L68.0,366.2 L95.8,370.3 L123.6,362.7 L151.4,359.0 M40.2,375.4 L68.0,371.5 L95.8,379.7 L123.6,368.1 L151.4,368.5 M40.2,366.1 L68.0,365.1 L95.8,365.1 L123.6,357.6 L151.4,361.1 M40.2,364.6 L68.0,366.0 L95.8,368.6 L123.6,360.5 L151.4,367.7 M40.2,367.9 L68.0,365.4 L95.8,373.7 L123.6,361.0 L151.4,357.8 M40.2,376.8 L68.0,376.8 L95.8,387.8 L123.6,372.9 L151.4,369.6 M40.2,375.5 L68.0,374.3 L95.8,375.6 L123.6,367.5 L151.4,368.4 M40.2,359.1 L68.0,360.2 L95.8,365.9 L123.6,358.6 L151.4,360.1 M40.2,347.0 L68.0,355.3 L95.8,354.7 L123.6,347.9 L151.4,349.7 M40.2,372.9 L68.0,371.2 L95.8,380.6 L123.6,361.9 L151.4,365.2 M40.2,371.4 L68.0,372.8 L95.8,387.8 L123.6,365.4 L151.4,369.7 M40.2,351.9 L68.0,351.7 L95.8,352.6 L123.6,346.2 L151.4,347.5 M40.2,360.8 L68.0,362.4 L95.8,366.6 L123.6,355.1 L151.4,356.7 M40.2,361.7 L68.0,364.2 L95.8,370.5 L123.6,359.6 L151.4,357.9 M40.2,358.9 L68.0,362.3 L95.8,360.7 L123.6,357.2 L151.4,355.8 M40.2,356.7 L68.0,357.2 L95.8,364.9 L123.6,350.8 L151.4,354.0 M40.2,376.4 L68.0,379.3 L95.8,381.9 L123.6,373.9 L151.4,374.8 M40.2,363.9 L68.0,364.2 L95.8,370.9 L123.6,357.7 L151.4,360.8 M40.2,370.9 L68.0,362.7 L95.8,369.8 L123.6,363.8 L151.4,361.1 M40.2,358.7 L68.0,366.0 L95.8,363.3 L123.6,358.3 L151.4,353.8 M40.2,364.7 L68.0,368.5 L95.8,376.2 L123.6,359.7 L151.4,361.8 M40.2,350.6 L68.0,357.7 L95.8,363.1 L123.6,351.9 L151.4,353.3 M40.2,370.4 L68.0,371.5 L95.8,379.6 L123.6,366.5 L151.4,369.2 M40.2,361.6 L68.0,363.2 L95.8,371.9 L123.6,363.2 L151.4,357.9 M40.2,361.5 L68.0,369.6 L95.8,371.7 L123.6,360.3 L151.4,365.5 M40.2,367.6 L68.0,367.8 L95.8,371.7 L123.6,366.8 L151.4,370.0 M40.2,358.6 L68.0,362.8 L95.8,371.0 L123.6,355.7 L151.4,357.2 M40.2,362.2 L68.0,362.3 L95.8,364.7 L123.6,358.6 L151.4,363.3 M40.2,361.4 L68.0,364.5 L95.8,366.4 L123.6,360.3 L151.4,360.7 M40.2,366.3 L68.0,365.2 L95.8,375.1 L123.6,358.6 L151.4,361.5 M40.2,357.4 L68.0,357.5 L95.8,365.4 L123.6,355.9 L151.4,359.7 M40.2,358.0 L68.0,362.4 L95.8,366.4 L123.6,358.4 L151.4,359.1 M40.2,374.1 L68.0,377.2 L95.8,387.4 L123.6,373.0 L151.4,375.2 M40.2,355.6 L68.0,364.0 L95.8,361.7 L123.6,353.1 L151.4,358.1 M40.2,379.3 L68.0,378.1 L95.8,383.7 L123.6,372.5 L151.4,378.5 M40.2,367.5 L68.0,363.2 L95.8,373.2 L123.6,361.2 L151.4,363.2"/>
</g>
<line x1="35.50" y1="361.50" x2="156.10" y2="361.50" stroke="#3a3a3a" stroke-width="0.8" stroke-dasharray="2.6 1.8"/>
<line x1="40.20" y1="356.30" x2="40.20" y2="376.20" stroke="#555555" stroke-width="1.7"/>
<line x1="68.00" y1="358.00" x2="68.00" y2="376.20" stroke="#555555" stroke-width="1.7"/>
<line x1="95.80" y1="357.20" x2="95.80" y2="379.20" stroke="#555555" stroke-width="1.7"/>
<line x1="123.60" y1="350.80" x2="123.60" y2="371.90" stroke="#555555" stroke-width="1.7"/>
<line x1="151.40" y1="352.00" x2="151.40" y2="368.40" stroke="#555555" stroke-width="1.7"/>
<path d="M40.2,366.4 L68.0,367.0 L95.8,368.2 L123.6,361.5 L151.4,360.1" fill="none" stroke="#d27a2c" stroke-width="1.5" stroke-linejoin="round"/>
<circle cx="40.2" cy="366.4" r="1.42" fill="#d27a2c"/>
<circle cx="68.0" cy="367.0" r="1.42" fill="#d27a2c"/>
<circle cx="95.8" cy="368.2" r="1.42" fill="#d27a2c"/>
<circle cx="123.6" cy="361.5" r="1.42" fill="#d27a2c"/>
<circle cx="151.4" cy="360.1" r="1.42" fill="#d27a2c"/>
<rect x="35.5" y="334.8" width="120.6" height="59.69999999999999" fill="none" stroke="#222" stroke-width="1.2"/>
<line x1="32.30" y1="383.70" x2="35.50" y2="383.70" stroke="#111" stroke-width="0.9"/>
<text transform="translate(30.10,386.50) scale(1,1.1)" font-size="8.0" text-anchor="end" fill="#1a1a1a" stroke="#1a1a1a" stroke-width="0.22">10</text>
<line x1="32.30" y1="368.40" x2="35.50" y2="368.40" stroke="#111" stroke-width="0.9"/>
<text transform="translate(30.10,371.20) scale(1,1.1)" font-size="8.0" text-anchor="end" fill="#1a1a1a" stroke="#1a1a1a" stroke-width="0.22">15</text>
<line x1="32.30" y1="353.10" x2="35.50" y2="353.10" stroke="#111" stroke-width="0.9"/>
<text transform="translate(30.10,355.90) scale(1,1.1)" font-size="8.0" text-anchor="end" fill="#1a1a1a" stroke="#1a1a1a" stroke-width="0.22">20</text>
<line x1="32.30" y1="337.80" x2="35.50" y2="337.80" stroke="#111" stroke-width="0.9"/>
<text transform="translate(30.10,340.60) scale(1,1.1)" font-size="8.0" text-anchor="end" fill="#1a1a1a" stroke="#1a1a1a" stroke-width="0.22">25</text>
<text transform="translate(15.2,364.6) rotate(-90)" font-size="8.4" text-anchor="middle" fill="#1a1a1a" stroke="#1a1a1a" stroke-width="0.4" textLength="46.9" lengthAdjust="spacingAndGlyphs">Average log ratio</text>
<text transform="translate(40.20,403.80) scale(1,1.1)" font-size="7.5" text-anchor="middle" fill="#1a1a1a" stroke="#1a1a1a" stroke-width="0.22">Controls</text>
<text transform="translate(68.00,413.80) scale(1,1.1)" font-size="7.5" text-anchor="middle" fill="#1a1a1a" stroke="#1a1a1a" stroke-width="0.22" textLength="32.6" lengthAdjust="spacingAndGlyphs">A-ITP IVIg</text>
<text transform="translate(95.80,403.80) scale(1,1.1)" font-size="7.5" text-anchor="middle" fill="#1a1a1a" stroke="#1a1a1a" stroke-width="0.22" textLength="28.9" lengthAdjust="spacingAndGlyphs">P-ITP D7</text>
<text transform="translate(123.60,413.80) scale(1,1.1)" font-size="7.5" text-anchor="middle" fill="#1a1a1a" stroke="#1a1a1a" stroke-width="0.22" textLength="18.2" lengthAdjust="spacingAndGlyphs">A-ITP</text>
<text transform="translate(151.40,403.80) scale(1,1.1)" font-size="7.5" text-anchor="middle" fill="#1a1a1a" stroke="#1a1a1a" stroke-width="0.22" textLength="28.9" lengthAdjust="spacingAndGlyphs">P-ITP D3</text>
<text transform="translate(268.05,330.40) scale(1,1.1)" font-size="7.9" text-anchor="middle" fill="#1a1a1a" stroke="#1a1a1a" stroke-width="0.22">ME red (244 proteins)</text>
<g clip-path="url(#cp4)" fill="none" stroke="#b8b8b8" stroke-width="0.55" stroke-opacity="0.42">
<path d="M212.4,368.0 L240.2,371.7 L268.0,369.1 L295.9,370.4 L323.7,377.8 M212.4,372.4 L240.2,375.9 L268.0,368.3 L295.9,376.0 L323.7,381.5 M212.4,351.5 L240.2,354.7 L268.0,353.6 L295.9,358.5 L323.7,361.5 M212.4,338.8 L240.2,337.9 L268.0,339.6 L295.9,341.1 L323.7,342.6 M212.4,342.2 L240.2,341.9 L268.0,343.2 L295.9,345.2 L323.7,347.5 M212.4,355.9 L240.2,354.8 L268.0,355.2 L295.9,361.1 L323.7,359.0 M212.4,372.5 L240.2,377.6 L268.0,370.7 L295.9,377.3 L323.7,380.3 M212.4,378.3 L240.2,383.3 L268.0,375.3 L295.9,381.4 L323.7,389.3 M212.4,363.6 L240.2,367.7 L268.0,362.4 L295.9,365.9 L323.7,372.3 M212.4,362.6 L240.2,360.4 L268.0,355.2 L295.9,363.4 L323.7,366.1 M212.4,374.6 L240.2,383.0 L268.0,375.2 L295.9,381.5 L323.7,387.3 M212.4,341.0 L240.2,342.3 L268.0,338.6 L295.9,341.8 L323.7,349.1 M212.4,361.7 L240.2,361.6 L268.0,358.2 L295.9,362.7 L323.7,372.0 M212.4,366.9 L240.2,374.2 L268.0,367.6 L295.9,374.9 L323.7,378.8 M212.4,380.6 L240.2,387.1 L268.0,379.1 L295.9,384.1 L323.7,394.1 M212.4,353.8 L240.2,356.9 L268.0,354.9 L295.9,354.5 L323.7,363.2 M212.4,376.4 L240.2,386.6 L268.0,376.7 L295.9,384.1 L323.7,388.1 M212.4,381.9 L240.2,380.4 L268.0,378.3 L295.9,385.8 L323.7,392.7 M212.4,375.5 L240.2,379.9 L268.0,374.9 L295.9,382.8 L323.7,384.9 M212.4,344.7 L240.2,346.8 L268.0,344.4 L295.9,353.2 L323.7,356.3 M212.4,350.5 L240.2,356.5 L268.0,351.8 L295.9,357.2 L323.7,360.9 M212.4,351.6 L240.2,354.6 L268.0,348.1 L295.9,354.3 L323.7,357.1 M212.4,369.6 L240.2,373.1 L268.0,368.1 L295.9,374.7 L323.7,379.6 M212.4,358.3 L240.2,366.1 L268.0,360.0 L295.9,360.4 L323.7,368.1 M212.4,363.4 L240.2,364.9 L268.0,359.6 L295.9,366.5 L323.7,374.0 M212.4,375.3 L240.2,383.9 L268.0,377.9 L295.9,380.0 L323.7,388.1 M212.4,350.8 L240.2,354.5 L268.0,349.9 L295.9,355.8 L323.7,363.5 M212.4,378.8 L240.2,384.6 L268.0,380.1 L295.9,386.1 L323.7,387.3 M212.4,367.3 L240.2,368.2 L268.0,364.4 L295.9,370.8 L323.7,376.5 M212.4,356.8 L240.2,359.1 L268.0,358.1 L295.9,360.4 L323.7,367.3 M212.4,359.9 L240.2,360.0 L268.0,356.7 L295.9,363.9 L323.7,367.6 M212.4,368.8 L240.2,371.7 L268.0,364.4 L295.9,373.8 L323.7,379.5 M212.4,379.4 L240.2,387.7 L268.0,378.1 L295.9,384.1 L323.7,390.3 M212.4,372.5 L240.2,374.6 L268.0,372.6 L295.9,379.0 L323.7,385.9 M212.4,344.5 L240.2,344.9 L268.0,344.4 L295.9,347.5 L323.7,350.9 M212.4,373.1 L240.2,376.8 L268.0,372.2 L295.9,376.3 L323.7,382.9 M212.4,370.2 L240.2,376.5 L268.0,369.9 L295.9,379.0 L323.7,385.9 M212.4,345.6 L240.2,350.3 L268.0,348.1 L295.9,351.6 L323.7,352.5 M212.4,369.5 L240.2,369.7 L268.0,365.9 L295.9,371.9 L323.7,377.4 M212.4,375.8 L240.2,379.2 L268.0,376.4 L295.9,378.8 L323.7,387.5 M212.4,381.6 L240.2,383.4 L268.0,374.5 L295.9,387.0 L323.7,393.5 M212.4,376.0 L240.2,381.7 L268.0,376.0 L295.9,381.0 L323.7,387.0 M212.4,380.7 L240.2,386.3 L268.0,378.3 L295.9,385.6 L323.7,391.3 M212.4,380.4 L240.2,385.1 L268.0,379.7 L295.9,385.0 L323.7,392.6 M212.4,378.0 L240.2,386.3 L268.0,375.6 L295.9,385.7 L323.7,387.4 M212.4,349.9 L240.2,356.8 L268.0,349.8 L295.9,354.5 L323.7,353.2 M212.4,350.5 L240.2,352.2 L268.0,352.1 L295.9,356.7 L323.7,356.3 M212.4,349.6 L240.2,349.8 L268.0,347.1 L295.9,354.2 L323.7,357.1 M212.4,366.9 L240.2,369.5 L268.0,364.8 L295.9,370.4 L323.7,374.0 M212.4,355.3 L240.2,356.9 L268.0,354.5 L295.9,359.6 L323.7,359.0 M212.4,340.8 L240.2,343.9 L268.0,341.4 L295.9,343.4 L323.7,343.9 M212.4,346.6 L240.2,348.3 L268.0,344.0 L295.9,345.9 L323.7,353.0 M212.4,356.2 L240.2,355.8 L268.0,353.9 L295.9,360.3 L323.7,364.4 M212.4,345.4 L240.2,343.3 L268.0,344.4 L295.9,344.8 L323.7,349.2 M212.4,365.6 L240.2,367.8 L268.0,361.9 L295.9,367.4 L323.7,370.2 M212.4,347.2 L240.2,346.6 L268.0,344.9 L295.9,345.6 L323.7,353.4 M212.4,350.8 L240.2,354.6 L268.0,349.9 L295.9,354.4 L323.7,359.0 M212.4,350.4 L240.2,349.4 L268.0,349.6 L295.9,354.7 L323.7,358.0 M212.4,360.9 L240.2,362.6 L268.0,360.5 L295.9,368.3 L323.7,370.7 M212.4,346.9 L240.2,347.9 L268.0,348.0 L295.9,353.4 L323.7,355.4 M212.4,345.7 L240.2,344.7 L268.0,344.5 L295.9,347.3 L323.7,349.3 M212.4,350.4 L240.2,354.5 L268.0,349.5 L295.9,356.5 L323.7,357.2 M212.4,368.9 L240.2,377.0 L268.0,373.8 L295.9,378.5 L323.7,387.3 M212.4,376.2 L240.2,379.8 L268.0,373.8 L295.9,379.2 L323.7,384.7 M212.4,375.8 L240.2,384.4 L268.0,379.9 L295.9,384.0 L323.7,390.8 M212.4,360.0 L240.2,362.8 L268.0,363.0 L295.9,365.0 L323.7,376.2 M212.4,368.9 L240.2,373.5 L268.0,368.7 L295.9,373.8 L323.7,377.7 M212.4,343.7 L240.2,349.4 L268.0,343.2 L295.9,346.8 L323.7,350.8 M212.4,356.4 L240.2,357.2 L268.0,354.0 L295.9,359.7 L323.7,366.0 M212.4,341.8 L240.2,342.0 L268.0,342.2 L295.9,344.5 L323.7,345.9 M212.4,339.3 L240.2,340.7 L268.0,339.2 L295.9,342.8 L323.7,348.3 M212.4,340.1 L240.2,343.2 L268.0,343.3 L295.9,345.2 L323.7,351.7 M212.4,353.1 L240.2,355.6 L268.0,351.6 L295.9,354.9 L323.7,358.5 M212.4,369.0 L240.2,374.4 L268.0,368.7 L295.9,371.3 L323.7,376.8 M212.4,368.5 L240.2,372.2 L268.0,368.3 L295.9,373.2 L323.7,378.1 M212.4,378.0 L240.2,385.4 L268.0,379.7 L295.9,381.2 L323.7,390.6 M212.4,368.3 L240.2,376.9 L268.0,369.7 L295.9,376.6 L323.7,382.4 M212.4,341.7 L240.2,340.9 L268.0,343.8 L295.9,346.3 L323.7,347.1 M212.4,348.7 L240.2,346.9 L268.0,345.4 L295.9,348.4 L323.7,349.9 M212.4,356.6 L240.2,357.5 L268.0,354.4 L295.9,361.5 L323.7,363.7 M212.4,374.5 L240.2,374.9 L268.0,373.5 L295.9,377.9 L323.7,386.4 M212.4,343.0 L240.2,339.6 L268.0,340.0 L295.9,342.4 L323.7,347.4 M212.4,352.3 L240.2,352.4 L268.0,352.6 L295.9,354.9 L323.7,359.6 M212.4,337.9 L240.2,335.2 L268.0,339.4 L295.9,340.8 L323.7,343.7 M212.4,340.8 L240.2,342.8 L268.0,344.4 L295.9,341.5 L323.7,345.7 M212.4,366.1 L240.2,369.7 L268.0,365.4 L295.9,369.6 L323.7,377.9 M212.4,376.2 L240.2,375.4 L268.0,371.3 L295.9,375.3 L323.7,382.5 M212.4,347.7 L240.2,350.0 L268.0,349.3 L295.9,351.1 L323.7,354.8 M212.4,356.6 L240.2,357.3 L268.0,354.2 L295.9,356.5 L323.7,363.9 M212.4,359.3 L240.2,358.3 L268.0,355.2 L295.9,360.2 L323.7,366.2 M212.4,347.7 L240.2,350.9 L268.0,351.8 L295.9,351.0 L323.7,356.1 M212.4,381.3 L240.2,383.2 L268.0,379.6 L295.9,384.1 L323.7,392.5 M212.4,372.0 L240.2,378.6 L268.0,370.9 L295.9,376.0 L323.7,383.4 M212.4,359.0 L240.2,363.6 L268.0,357.7 L295.9,360.8 L323.7,365.2 M212.4,345.7 L240.2,348.8 L268.0,346.8 L295.9,351.4 L323.7,353.0 M212.4,344.9 L240.2,342.9 L268.0,344.7 L295.9,349.4 L323.7,350.5 M212.4,353.9 L240.2,360.0 L268.0,357.4 L295.9,360.9 L323.7,365.2 M212.4,345.8 L240.2,346.7 L268.0,346.2 L295.9,350.0 L323.7,354.2 M212.4,381.5 L240.2,386.3 L268.0,381.0 L295.9,385.3 L323.7,388.2 M212.4,348.7 L240.2,351.3 L268.0,350.2 L295.9,356.2 L323.7,357.7 M212.4,367.7 L240.2,371.3 L268.0,366.6 L295.9,371.6 L323.7,378.1 M212.4,357.5 L240.2,359.0 L268.0,357.2 L295.9,358.5 L323.7,368.7 M212.4,367.2 L240.2,365.8 L268.0,365.2 L295.9,368.8 L323.7,370.4 M212.4,367.5 L240.2,369.8 L268.0,364.2 L295.9,375.3 L323.7,373.8 M212.4,344.5 L240.2,349.9 L268.0,346.6 L295.9,350.7 L323.7,358.4 M212.4,342.2 L240.2,342.1 L268.0,340.0 L295.9,345.6 L323.7,348.7 M212.4,356.9 L240.2,360.1 L268.0,358.2 L295.9,362.3 L323.7,363.5 M212.4,344.9 L240.2,347.0 L268.0,348.9 L295.9,350.1 L323.7,358.6 M212.4,341.5 L240.2,343.8 L268.0,343.9 L295.9,344.1 L323.7,350.1 M212.4,340.1 L240.2,343.6 L268.0,342.9 L295.9,346.8 L323.7,348.1 M212.4,341.4 L240.2,339.8 L268.0,341.5 L295.9,344.5 L323.7,350.5 M212.4,361.5 L240.2,362.0 L268.0,356.8 L295.9,364.0 L323.7,367.8 M212.4,374.4 L240.2,378.8 L268.0,375.3 L295.9,379.4 L323.7,386.2 M212.4,357.1 L240.2,358.8 L268.0,359.1 L295.9,363.9 L323.7,367.2 M212.4,372.6 L240.2,378.3 L268.0,373.2 L295.9,377.6 L323.7,384.2 M212.4,370.2 L240.2,374.0 L268.0,367.6 L295.9,376.8 L323.7,378.9 M212.4,382.0 L240.2,382.2 L268.0,378.6 L295.9,382.9 L323.7,393.2 M212.4,339.5 L240.2,340.5 L268.0,336.9 L295.9,341.8 L323.7,344.2 M212.4,344.9 L240.2,344.8 L268.0,345.5 L295.9,346.1 L323.7,350.5 M212.4,372.0 L240.2,372.2 L268.0,370.8 L295.9,374.9 L323.7,379.9 M212.4,366.9 L240.2,371.6 L268.0,363.3 L295.9,372.8 L323.7,378.4 M212.4,350.0 L240.2,350.9 L268.0,351.2 L295.9,352.3 L323.7,359.5 M212.4,340.2 L240.2,340.3 L268.0,339.7 L295.9,345.3 L323.7,350.2 M212.4,341.6 L240.2,342.5 L268.0,341.2 L295.9,342.5 L323.7,349.8 M212.4,356.6 L240.2,355.9 L268.0,357.3 L295.9,358.2 L323.7,363.6 M212.4,355.9 L240.2,361.0 L268.0,356.0 L295.9,360.4 L323.7,369.2 M212.4,360.8 L240.2,362.0 L268.0,359.4 L295.9,362.7 L323.7,370.5 M212.4,377.9 L240.2,380.1 L268.0,376.4 L295.9,380.0 L323.7,391.0 M212.4,340.2 L240.2,339.1 L268.0,340.5 L295.9,343.6 L323.7,343.8 M212.4,359.2 L240.2,359.7 L268.0,360.6 L295.9,369.9 L323.7,370.0 M212.4,361.6 L240.2,361.9 L268.0,359.6 L295.9,361.8 L323.7,368.8 M212.4,342.0 L240.2,342.5 L268.0,342.9 L295.9,342.5 L323.7,345.6 M212.4,365.9 L240.2,367.9 L268.0,360.1 L295.9,371.1 L323.7,375.0 M212.4,354.4 L240.2,354.8 L268.0,354.1 L295.9,361.3 L323.7,362.9 M212.4,375.3 L240.2,373.0 L268.0,371.5 L295.9,380.1 L323.7,380.9 M212.4,349.6 L240.2,351.1 L268.0,355.9 L295.9,353.9 L323.7,360.4 M212.4,374.5 L240.2,376.2 L268.0,374.0 L295.9,378.8 L323.7,383.6 M212.4,353.4 L240.2,361.1 L268.0,350.9 L295.9,359.4 L323.7,363.7 M212.4,363.1 L240.2,368.0 L268.0,362.7 L295.9,367.7 L323.7,373.7 M212.4,353.2 L240.2,358.9 L268.0,356.6 L295.9,362.1 L323.7,364.0 M212.4,370.7 L240.2,375.1 L268.0,366.4 L295.9,374.0 L323.7,380.2 M212.4,373.6 L240.2,378.3 L268.0,373.7 L295.9,377.9 L323.7,384.0 M212.4,357.8 L240.2,363.6 L268.0,358.0 L295.9,363.3 L323.7,363.8 M212.4,366.9 L240.2,371.0 L268.0,367.7 L295.9,370.8 L323.7,375.4 M212.4,374.6 L240.2,382.5 L268.0,376.2 L295.9,379.7 L323.7,387.9 M212.4,343.2 L240.2,348.2 L268.0,345.4 L295.9,348.7 L323.7,348.5 M212.4,366.5 L240.2,372.9 L268.0,368.3 L295.9,375.9 L323.7,377.4 M212.4,369.7 L240.2,375.3 L268.0,369.5 L295.9,376.6 L323.7,377.5 M212.4,372.5 L240.2,372.5 L268.0,369.2 L295.9,373.5 L323.7,379.0 M212.4,349.0 L240.2,348.6 L268.0,346.4 L295.9,351.5 L323.7,353.2 M212.4,340.7 L240.2,338.0 L268.0,338.7 L295.9,341.4 L323.7,347.0 M212.4,376.7 L240.2,380.2 L268.0,374.5 L295.9,383.6 L323.7,387.9 M212.4,372.8 L240.2,375.4 L268.0,369.2 L295.9,376.7 L323.7,383.6 M212.4,350.4 L240.2,351.5 L268.0,350.1 L295.9,354.1 L323.7,359.2 M212.4,360.6 L240.2,367.9 L268.0,360.6 L295.9,364.8 L323.7,371.2 M212.4,342.3 L240.2,339.8 L268.0,336.9 L295.9,344.7 L323.7,346.2 M212.4,360.0 L240.2,362.4 L268.0,361.3 L295.9,362.0 L323.7,372.0 M212.4,371.1 L240.2,375.2 L268.0,370.0 L295.9,374.2 L323.7,381.1 M212.4,360.5 L240.2,362.1 L268.0,358.4 L295.9,364.8 L323.7,368.9 M212.4,369.4 L240.2,371.8 L268.0,366.3 L295.9,370.5 L323.7,373.9 M212.4,367.6 L240.2,371.5 L268.0,367.7 L295.9,372.2 L323.7,378.4 M212.4,377.8 L240.2,383.1 L268.0,375.5 L295.9,380.8 L323.7,386.9 M212.4,371.8 L240.2,370.2 L268.0,367.3 L295.9,376.9 L323.7,378.0 M212.4,369.7 L240.2,370.0 L268.0,367.7 L295.9,374.4 L323.7,380.4 M212.4,364.8 L240.2,368.9 L268.0,362.6 L295.9,364.1 L323.7,374.0 M212.4,371.1 L240.2,374.1 L268.0,369.6 L295.9,378.0 L323.7,386.5 M212.4,377.9 L240.2,383.5 L268.0,377.2 L295.9,382.5 L323.7,390.6 M212.4,367.3 L240.2,371.9 L268.0,367.5 L295.9,370.8 L323.7,379.4 M212.4,350.8 L240.2,350.3 L268.0,351.0 L295.9,355.6 L323.7,354.2 M212.4,348.3 L240.2,349.6 L268.0,347.5 L295.9,350.0 L323.7,357.0 M212.4,378.5 L240.2,382.6 L268.0,377.0 L295.9,384.8 L323.7,387.2 M212.4,378.4 L240.2,382.3 L268.0,377.3 L295.9,382.0 L323.7,391.7 M212.4,365.5 L240.2,370.2 L268.0,371.2 L295.9,371.4 L323.7,379.8 M212.4,348.6 L240.2,348.4 L268.0,347.1 L295.9,346.5 L323.7,351.4 M212.4,366.5 L240.2,366.0 L268.0,360.1 L295.9,364.7 L323.7,368.8 M212.4,346.4 L240.2,348.3 L268.0,344.8 L295.9,347.7 L323.7,354.0 M212.4,357.9 L240.2,359.7 L268.0,358.4 L295.9,360.3 L323.7,365.6 M212.4,373.5 L240.2,380.1 L268.0,376.0 L295.9,379.6 L323.7,384.2 M212.4,362.8 L240.2,360.2 L268.0,359.3 L295.9,361.8 L323.7,366.7 M212.4,357.8 L240.2,361.1 L268.0,354.0 L295.9,363.7 L323.7,366.1 M212.4,374.6 L240.2,380.0 L268.0,375.1 L295.9,377.5 L323.7,383.6 M212.4,369.2 L240.2,373.0 L268.0,366.7 L295.9,371.6 L323.7,377.7 M212.4,372.9 L240.2,378.4 L268.0,370.2 L295.9,376.0 L323.7,384.5 M212.4,373.2 L240.2,377.6 L268.0,372.4 L295.9,375.4 L323.7,384.3 M212.4,378.0 L240.2,386.9 L268.0,376.6 L295.9,382.3 L323.7,390.2 M212.4,372.5 L240.2,377.1 L268.0,371.6 L295.9,375.1 L323.7,384.4 M212.4,352.2 L240.2,357.5 L268.0,354.0 L295.9,356.7 L323.7,361.8 M212.4,348.1 L240.2,348.7 L268.0,349.2 L295.9,350.6 L323.7,352.5 M212.4,344.5 L240.2,346.7 L268.0,344.6 L295.9,351.7 L323.7,351.7 M212.4,374.3 L240.2,376.3 L268.0,373.1 L295.9,379.1 L323.7,381.5 M212.4,364.6 L240.2,369.7 L268.0,362.4 L295.9,368.8 L323.7,376.9 M212.4,353.5 L240.2,349.0 L268.0,353.0 L295.9,356.7 L323.7,358.3 M212.4,374.6 L240.2,376.0 L268.0,370.7 L295.9,377.5 L323.7,383.6 M212.4,338.7 L240.2,340.0 L268.0,340.0 L295.9,344.0 L323.7,345.2 M212.4,347.3 L240.2,351.9 L268.0,348.4 L295.9,356.3 L323.7,358.9 M212.4,352.4 L240.2,356.8 L268.0,352.8 L295.9,357.5 L323.7,358.7 M212.4,351.2 L240.2,358.2 L268.0,351.8 L295.9,355.1 L323.7,362.5 M212.4,365.3 L240.2,369.2 L268.0,364.6 L295.9,371.2 L323.7,373.6 M212.4,337.4 L240.2,342.4 L268.0,336.1 L295.9,343.6 L323.7,348.1 M212.4,380.1 L240.2,384.0 L268.0,378.8 L295.9,383.7 L323.7,386.9 M212.4,343.4 L240.2,340.9 L268.0,341.4 L295.9,342.2 L323.7,346.1 M212.4,372.9 L240.2,377.8 L268.0,373.2 L295.9,375.1 L323.7,381.7 M212.4,366.6 L240.2,369.3 L268.0,366.3 L295.9,369.7 L323.7,375.1 M212.4,372.5 L240.2,375.5 L268.0,373.3 L295.9,375.1 L323.7,381.0 M212.4,368.3 L240.2,372.6 L268.0,369.0 L295.9,372.5 L323.7,381.3 M212.4,357.1 L240.2,357.3 L268.0,354.9 L295.9,361.1 L323.7,365.1 M212.4,362.0 L240.2,365.8 L268.0,361.5 L295.9,369.4 L323.7,373.3 M212.4,378.5 L240.2,377.4 L268.0,374.8 L295.9,378.0 L323.7,384.5 M212.4,362.2 L240.2,363.2 L268.0,366.0 L295.9,369.6 L323.7,371.2 M212.4,375.9 L240.2,382.9 L268.0,375.4 L295.9,380.8 L323.7,389.2 M212.4,372.5 L240.2,373.0 L268.0,373.7 L295.9,374.6 L323.7,384.8 M212.4,359.5 L240.2,356.1 L268.0,358.2 L295.9,359.4 L323.7,362.4 M212.4,366.1 L240.2,372.6 L268.0,365.1 L295.9,371.5 L323.7,378.0 M212.4,339.2 L240.2,341.5 L268.0,341.6 L295.9,344.5 L323.7,347.2 M212.4,357.5 L240.2,360.9 L268.0,355.0 L295.9,362.7 L323.7,365.9 M212.4,360.9 L240.2,363.5 L268.0,363.1 L295.9,365.7 L323.7,370.5 M212.4,375.6 L240.2,381.7 L268.0,376.0 L295.9,381.3 L323.7,387.6 M212.4,376.0 L240.2,377.3 L268.0,374.8 L295.9,380.5 L323.7,388.5 M212.4,339.6 L240.2,341.3 L268.0,340.0 L295.9,342.2 L323.7,344.3 M212.4,381.2 L240.2,382.6 L268.0,375.1 L295.9,384.9 L323.7,392.2 M212.4,359.0 L240.2,360.5 L268.0,362.7 L295.9,362.5 L323.7,369.9 M212.4,367.3 L240.2,369.5 L268.0,362.7 L295.9,371.6 L323.7,376.7 M212.4,374.7 L240.2,376.2 L268.0,373.8 L295.9,379.0 L323.7,384.2 M212.4,356.3 L240.2,358.9 L268.0,355.7 L295.9,365.2 L323.7,363.0 M212.4,377.1 L240.2,381.4 L268.0,377.6 L295.9,382.3 L323.7,391.5 M212.4,356.9 L240.2,363.8 L268.0,357.1 L295.9,360.2 L323.7,364.9 M212.4,356.8 L240.2,363.3 L268.0,356.3 L295.9,363.5 L323.7,366.5 M212.4,370.0 L240.2,371.5 L268.0,371.0 L295.9,370.8 L323.7,379.8 M212.4,367.7 L240.2,374.6 L268.0,369.3 L295.9,372.4 L323.7,379.0 M212.4,362.0 L240.2,365.2 L268.0,362.4 L295.9,370.1 L323.7,367.6 M212.4,361.4 L240.2,362.2 L268.0,359.7 L295.9,362.8 L323.7,368.9 M212.4,344.2 L240.2,347.0 L268.0,343.7 L295.9,348.7 L323.7,351.1 M212.4,372.2 L240.2,377.2 L268.0,373.4 L295.9,375.6 L323.7,388.4 M212.4,367.6 L240.2,367.6 L268.0,366.5 L295.9,369.7 L323.7,375.3 M212.4,354.9 L240.2,358.7 L268.0,355.6 L295.9,362.0 L323.7,363.8 M212.4,360.9 L240.2,361.9 L268.0,360.5 L295.9,364.4 L323.7,368.5 M212.4,374.0 L240.2,375.1 L268.0,372.3 L295.9,376.7 L323.7,383.5 M212.4,342.5 L240.2,346.1 L268.0,345.3 L295.9,348.1 L323.7,355.6 M212.4,352.9 L240.2,356.0 L268.0,354.0 L295.9,360.3 L323.7,362.5 M212.4,357.4 L240.2,358.7 L268.0,359.3 L295.9,361.0 L323.7,367.0 M212.4,367.0 L240.2,373.1 L268.0,368.1 L295.9,369.8 L323.7,376.9 M212.4,362.8 L240.2,363.8 L268.0,361.9 L295.9,368.5 L323.7,370.4 M212.4,355.8 L240.2,355.7 L268.0,351.5 L295.9,359.0 L323.7,368.7 M212.4,380.1 L240.2,385.3 L268.0,378.7 L295.9,383.6 L323.7,388.7"/>
</g>
<line x1="207.70" y1="367.10" x2="328.40" y2="367.10" stroke="#3a3a3a" stroke-width="0.8" stroke-dasharray="2.6 1.8"/>
<line x1="212.40" y1="354.00" x2="212.40" y2="369.80" stroke="#555555" stroke-width="1.7"/>
<line x1="240.22" y1="355.10" x2="240.22" y2="371.60" stroke="#555555" stroke-width="1.7"/>
<line x1="268.05" y1="354.30" x2="268.05" y2="370.50" stroke="#555555" stroke-width="1.7"/>
<line x1="295.88" y1="356.00" x2="295.88" y2="373.30" stroke="#555555" stroke-width="1.7"/>
<line x1="323.70" y1="358.40" x2="323.70" y2="378.50" stroke="#555555" stroke-width="1.7"/>
<path d="M212.4,362.0 L240.2,363.6 L268.0,362.4 L295.9,365.0 L323.7,368.8" fill="none" stroke="#d9203d" stroke-width="1.8" stroke-linejoin="round"/>
<circle cx="212.4" cy="362.0" r="1.71" fill="#d9203d"/>
<circle cx="240.2" cy="363.6" r="1.71" fill="#d9203d"/>
<circle cx="268.0" cy="362.4" r="1.71" fill="#d9203d"/>
<circle cx="295.9" cy="365.0" r="1.71" fill="#d9203d"/>
<circle cx="323.7" cy="368.8" r="1.71" fill="#d9203d"/>
<rect x="207.7" y="335.3" width="120.69999999999999" height="59.89999999999998" fill="none" stroke="#222" stroke-width="1.2"/>
<line x1="204.50" y1="385.70" x2="207.70" y2="385.70" stroke="#111" stroke-width="0.9"/>
<text transform="translate(202.30,388.50) scale(1,1.1)" font-size="8.0" text-anchor="end" fill="#1a1a1a" stroke="#1a1a1a" stroke-width="0.22">10</text>
<line x1="204.50" y1="372.73" x2="207.70" y2="372.73" stroke="#111" stroke-width="0.9"/>
<text transform="translate(202.30,375.53) scale(1,1.1)" font-size="8.0" text-anchor="end" fill="#1a1a1a" stroke="#1a1a1a" stroke-width="0.22">15</text>
<line x1="204.50" y1="359.77" x2="207.70" y2="359.77" stroke="#111" stroke-width="0.9"/>
<text transform="translate(202.30,362.57) scale(1,1.1)" font-size="8.0" text-anchor="end" fill="#1a1a1a" stroke="#1a1a1a" stroke-width="0.22">20</text>
<line x1="204.50" y1="346.80" x2="207.70" y2="346.80" stroke="#111" stroke-width="0.9"/>
<text transform="translate(202.30,349.60) scale(1,1.1)" font-size="8.0" text-anchor="end" fill="#1a1a1a" stroke="#1a1a1a" stroke-width="0.22">25</text>
<text transform="translate(187.4,365.2) rotate(-90)" font-size="8.4" text-anchor="middle" fill="#1a1a1a" stroke="#1a1a1a" stroke-width="0.4" textLength="46.9" lengthAdjust="spacingAndGlyphs">Average log ratio</text>
<text transform="translate(212.40,404.50) scale(1,1.1)" font-size="7.5" text-anchor="middle" fill="#1a1a1a" stroke="#1a1a1a" stroke-width="0.22">Controls</text>
<text transform="translate(240.22,414.50) scale(1,1.1)" font-size="7.5" text-anchor="middle" fill="#1a1a1a" stroke="#1a1a1a" stroke-width="0.22" textLength="32.6" lengthAdjust="spacingAndGlyphs">A-ITP IVIg</text>
<text transform="translate(268.05,404.50) scale(1,1.1)" font-size="7.5" text-anchor="middle" fill="#1a1a1a" stroke="#1a1a1a" stroke-width="0.22" textLength="28.9" lengthAdjust="spacingAndGlyphs">P-ITP D7</text>
<text transform="translate(295.88,414.50) scale(1,1.1)" font-size="7.5" text-anchor="middle" fill="#1a1a1a" stroke="#1a1a1a" stroke-width="0.22" textLength="18.2" lengthAdjust="spacingAndGlyphs">A-ITP</text>
<text transform="translate(323.70,404.50) scale(1,1.1)" font-size="7.5" text-anchor="middle" fill="#1a1a1a" stroke="#1a1a1a" stroke-width="0.22" textLength="28.9" lengthAdjust="spacingAndGlyphs">P-ITP D3</text>
<text transform="translate(441.20,330.30) scale(1,1.1)" font-size="7.9" text-anchor="middle" fill="#1a1a1a" stroke="#1a1a1a" stroke-width="0.22">ME pink (66 proteins)</text>
<g clip-path="url(#cp5)" fill="none" stroke="#b8b8b8" stroke-width="0.55" stroke-opacity="0.7">
<path d="M385.6,357.6 L413.4,355.1 L441.2,363.6 L469.0,364.5 L496.8,367.2 M385.6,373.3 L413.4,372.6 L441.2,379.8 L469.0,384.2 L496.8,378.4 M385.6,364.0 L413.4,359.3 L441.2,371.1 L469.0,368.9 L496.8,369.6 M385.6,365.8 L413.4,356.7 L441.2,360.6 L469.0,372.8 L496.8,365.0 M385.6,360.5 L413.4,361.0 L441.2,363.6 L469.0,367.6 L496.8,368.8 M385.6,355.6 L413.4,351.7 L441.2,359.5 L469.0,360.1 L496.8,361.3 M385.6,351.0 L413.4,350.2 L441.2,355.0 L469.0,355.1 L496.8,359.6 M385.6,357.0 L413.4,355.2 L441.2,368.9 L469.0,364.9 L496.8,363.7 M385.6,362.5 L413.4,353.4 L441.2,364.4 L469.0,369.6 L496.8,367.8 M385.6,361.5 L413.4,357.6 L441.2,355.4 L469.0,361.3 L496.8,361.9 M385.6,348.8 L413.4,351.2 L441.2,348.3 L469.0,351.8 L496.8,355.8 M385.6,374.2 L413.4,370.1 L441.2,385.7 L469.0,387.5 L496.8,379.7 M385.6,359.3 L413.4,358.3 L441.2,363.9 L469.0,369.5 L496.8,371.4 M385.6,361.1 L413.4,365.2 L441.2,370.7 L469.0,375.0 L496.8,370.3 M385.6,358.6 L413.4,353.2 L441.2,366.0 L469.0,364.2 L496.8,360.8 M385.6,378.7 L413.4,373.3 L441.2,382.0 L469.0,392.8 L496.8,384.8 M385.6,379.6 L413.4,371.7 L441.2,376.8 L469.0,390.8 L496.8,377.7 M385.6,359.4 L413.4,348.4 L441.2,369.1 L469.0,365.0 L496.8,363.4 M385.6,339.2 L413.4,334.2 L441.2,344.2 L469.0,345.2 L496.8,347.9 M385.6,356.3 L413.4,354.1 L441.2,361.6 L469.0,367.9 L496.8,358.5 M385.6,370.8 L413.4,360.8 L441.2,369.7 L469.0,372.7 L496.8,366.0 M385.6,363.1 L413.4,360.7 L441.2,366.3 L469.0,371.4 L496.8,367.4 M385.6,334.8 L413.4,334.4 L441.2,328.7 L469.0,335.9 L496.8,341.8 M385.6,353.4 L413.4,350.1 L441.2,353.8 L469.0,358.8 L496.8,358.4 M385.6,365.7 L413.4,363.9 L441.2,367.1 L469.0,371.2 L496.8,372.0 M385.6,349.6 L413.4,349.6 L441.2,363.1 L469.0,363.6 L496.8,361.2 M385.6,360.8 L413.4,354.9 L441.2,364.5 L469.0,372.8 L496.8,365.6 M385.6,362.0 L413.4,360.1 L441.2,370.6 L469.0,373.9 L496.8,368.7 M385.6,377.7 L413.4,363.5 L441.2,379.4 L469.0,381.7 L496.8,373.8 M385.6,377.7 L413.4,379.7 L441.2,386.6 L469.0,393.9 L496.8,384.4 M385.6,360.7 L413.4,361.9 L441.2,368.9 L469.0,368.1 L496.8,362.8 M385.6,364.6 L413.4,361.9 L441.2,369.0 L469.0,371.1 L496.8,374.9 M385.6,359.7 L413.4,356.4 L441.2,365.3 L469.0,368.8 L496.8,367.6 M385.6,363.8 L413.4,362.2 L441.2,375.9 L469.0,377.3 L496.8,377.7 M385.6,389.4 L413.4,380.3 L441.2,387.7 L469.0,396.2 L496.8,390.4 M385.6,366.2 L413.4,363.6 L441.2,368.3 L469.0,372.6 L496.8,370.9 M385.6,371.3 L413.4,364.5 L441.2,369.4 L469.0,378.3 L496.8,368.2 M385.6,374.1 L413.4,374.3 L441.2,381.5 L469.0,384.4 L496.8,377.8 M385.6,353.7 L413.4,351.9 L441.2,354.8 L469.0,357.0 L496.8,360.4 M385.6,349.6 L413.4,354.3 L441.2,355.4 L469.0,357.0 L496.8,365.1 M385.6,360.4 L413.4,360.0 L441.2,359.0 L469.0,366.3 L496.8,366.7 M385.6,356.1 L413.4,352.1 L441.2,359.1 L469.0,363.3 L496.8,366.7 M385.6,364.6 L413.4,368.8 L441.2,362.5 L469.0,374.3 L496.8,372.8 M385.6,375.8 L413.4,372.7 L441.2,384.8 L469.0,388.0 L496.8,382.9 M385.6,368.0 L413.4,365.7 L441.2,370.4 L469.0,376.7 L496.8,372.4 M385.6,354.7 L413.4,352.8 L441.2,360.6 L469.0,365.5 L496.8,366.0 M385.6,362.5 L413.4,360.0 L441.2,369.8 L469.0,376.6 L496.8,373.4 M385.6,356.1 L413.4,354.1 L441.2,366.5 L469.0,366.5 L496.8,364.1 M385.6,368.1 L413.4,365.9 L441.2,376.8 L469.0,381.9 L496.8,372.0 M385.6,361.0 L413.4,357.6 L441.2,358.9 L469.0,363.6 L496.8,365.2 M385.6,349.2 L413.4,347.5 L441.2,346.2 L469.0,354.1 L496.8,354.3 M385.6,363.9 L413.4,360.7 L441.2,365.5 L469.0,364.1 L496.8,369.3 M385.6,349.7 L413.4,349.6 L441.2,351.2 L469.0,353.9 L496.8,359.1 M385.6,378.1 L413.4,378.3 L441.2,384.5 L469.0,395.8 L496.8,383.4 M385.6,372.2 L413.4,365.1 L441.2,372.6 L469.0,378.6 L496.8,376.1 M385.6,364.5 L413.4,354.6 L441.2,361.6 L469.0,361.5 L496.8,363.3 M385.6,357.9 L413.4,354.8 L441.2,366.0 L469.0,360.8 L496.8,363.2 M385.6,367.0 L413.4,356.1 L441.2,366.3 L469.0,375.5 L496.8,367.6 M385.6,346.0 L413.4,341.2 L441.2,348.2 L469.0,352.6 L496.8,350.3 M385.6,335.9 L413.4,332.9 L441.2,332.8 L469.0,340.1 L496.8,342.3 M385.6,357.5 L413.4,353.9 L441.2,357.4 L469.0,358.3 L496.8,360.2 M385.6,355.0 L413.4,346.3 L441.2,355.2 L469.0,356.6 L496.8,357.1 M385.6,370.1 L413.4,368.9 L441.2,373.8 L469.0,381.1 L496.8,375.5 M385.6,361.5 L413.4,352.9 L441.2,365.1 L469.0,364.1 L496.8,364.8 M385.6,370.6 L413.4,368.5 L441.2,376.4 L469.0,379.8 L496.8,370.4 M385.6,360.7 L413.4,360.0 L441.2,373.5 L469.0,380.4 L496.8,368.6"/>
</g>
<line x1="380.90" y1="358.90" x2="501.50" y2="358.90" stroke="#3a3a3a" stroke-width="0.8" stroke-dasharray="2.6 1.8"/>
<line x1="385.60" y1="352.00" x2="385.60" y2="371.60" stroke="#555555" stroke-width="1.8"/>
<line x1="413.40" y1="346.80" x2="413.40" y2="365.80" stroke="#555555" stroke-width="1.8"/>
<line x1="441.20" y1="351.50" x2="441.20" y2="372.80" stroke="#555555" stroke-width="1.8"/>
<line x1="469.00" y1="362.40" x2="469.00" y2="385.70" stroke="#555555" stroke-width="1.8"/>
<line x1="496.80" y1="356.00" x2="496.80" y2="375.40" stroke="#555555" stroke-width="1.8"/>
<path d="M385.6,361.9 L413.4,356.3 L441.2,362.0 L469.0,374.2 L496.8,365.8" fill="none" stroke="#f062bb" stroke-width="1.5" stroke-linejoin="round"/>
<circle cx="385.6" cy="361.9" r="1.42" fill="#f062bb"/>
<circle cx="413.4" cy="356.3" r="1.42" fill="#f062bb"/>
<circle cx="441.2" cy="362.0" r="1.42" fill="#f062bb"/>
<circle cx="469.0" cy="374.2" r="1.42" fill="#f062bb"/>
<circle cx="496.8" cy="365.8" r="1.42" fill="#f062bb"/>
<rect x="380.9" y="335.2" width="120.60000000000002" height="59.900000000000034" fill="none" stroke="#222" stroke-width="1.2"/>
<line x1="377.70" y1="385.70" x2="380.90" y2="385.70" stroke="#111" stroke-width="0.9"/>
<text transform="translate(375.50,388.50) scale(1,1.1)" font-size="8.0" text-anchor="end" fill="#1a1a1a" stroke="#1a1a1a" stroke-width="0.22">10</text>
<line x1="377.70" y1="367.10" x2="380.90" y2="367.10" stroke="#111" stroke-width="0.9"/>
<text transform="translate(375.50,369.90) scale(1,1.1)" font-size="8.0" text-anchor="end" fill="#1a1a1a" stroke="#1a1a1a" stroke-width="0.22">15</text>
<line x1="377.70" y1="348.50" x2="380.90" y2="348.50" stroke="#111" stroke-width="0.9"/>
<text transform="translate(375.50,351.30) scale(1,1.1)" font-size="8.0" text-anchor="end" fill="#1a1a1a" stroke="#1a1a1a" stroke-width="0.22">20</text>
<text transform="translate(360.6,365.1) rotate(-90)" font-size="8.4" text-anchor="middle" fill="#1a1a1a" stroke="#1a1a1a" stroke-width="0.4" textLength="46.9" lengthAdjust="spacingAndGlyphs">Average log ratio</text>
<text transform="translate(385.60,404.40) scale(1,1.1)" font-size="7.5" text-anchor="middle" fill="#1a1a1a" stroke="#1a1a1a" stroke-width="0.22">Controls</text>
<text transform="translate(413.40,414.40) scale(1,1.1)" font-size="7.5" text-anchor="middle" fill="#1a1a1a" stroke="#1a1a1a" stroke-width="0.22" textLength="32.6" lengthAdjust="spacingAndGlyphs">A-ITP IVIg</text>
<text transform="translate(441.20,404.40) scale(1,1.1)" font-size="7.5" text-anchor="middle" fill="#1a1a1a" stroke="#1a1a1a" stroke-width="0.22" textLength="28.9" lengthAdjust="spacingAndGlyphs">P-ITP D7</text>
<text transform="translate(469.00,414.40) scale(1,1.1)" font-size="7.5" text-anchor="middle" fill="#1a1a1a" stroke="#1a1a1a" stroke-width="0.22" textLength="18.2" lengthAdjust="spacingAndGlyphs">A-ITP</text>
<text transform="translate(496.80,404.40) scale(1,1.1)" font-size="7.5" text-anchor="middle" fill="#1a1a1a" stroke="#1a1a1a" stroke-width="0.22" textLength="28.9" lengthAdjust="spacingAndGlyphs">P-ITP D3</text>
<rect x="56.90" y="483.40" width="7.16" height="18.56" fill="#fafaff"/>
<rect x="63.56" y="483.40" width="7.16" height="18.56" fill="#f8f8ff"/>
<rect x="70.22" y="483.40" width="7.16" height="18.56" fill="#fbe8e8"/>
<rect x="76.88" y="483.40" width="7.16" height="18.56" fill="#15156a"/>
<rect x="83.54" y="483.40" width="7.16" height="18.56" fill="#b0b0d8"/>
<rect x="90.20" y="483.40" width="7.16" height="18.56" fill="#e0e0f0"/>
<rect x="96.86" y="483.40" width="7.16" height="18.56" fill="#f5c8c8"/>
<rect x="103.52" y="483.40" width="7.16" height="18.56" fill="#f2b8b8"/>
<rect x="110.18" y="483.40" width="7.16" height="18.56" fill="#f0b0b0"/>
<rect x="116.84" y="483.40" width="7.16" height="18.56" fill="#e47070"/>
<rect x="123.50" y="483.40" width="7.16" height="18.56" fill="#dc4848"/>
<rect x="130.16" y="483.40" width="7.16" height="18.56" fill="#e06868"/>
<rect x="136.82" y="483.40" width="7.16" height="18.56" fill="#e06060"/>
<rect x="143.48" y="483.40" width="7.16" height="18.56" fill="#e06060"/>
<rect x="150.14" y="483.40" width="7.16" height="18.56" fill="#f2c0c0"/>
<rect x="156.80" y="483.40" width="7.16" height="18.56" fill="#f2c0c0"/>
<rect x="163.46" y="483.40" width="7.16" height="18.56" fill="#f0a8a8"/>
<rect x="170.12" y="483.40" width="7.16" height="18.56" fill="#f2b0b0"/>
<rect x="176.78" y="483.40" width="6.66" height="18.56" fill="#f0a8a8"/>
<rect x="56.90" y="501.46" width="7.16" height="18.56" fill="#ffffff"/>
<rect x="63.56" y="501.46" width="7.16" height="18.56" fill="#fdf5f3"/>
<rect x="70.22" y="501.46" width="7.16" height="18.56" fill="#fbe8e6"/>
<rect x="76.88" y="501.46" width="7.16" height="18.56" fill="#9090cc"/>
<rect x="83.54" y="501.46" width="7.16" height="18.56" fill="#3838a0"/>
<rect x="90.20" y="501.46" width="7.16" height="18.56" fill="#8080c0"/>
<rect x="96.86" y="501.46" width="7.16" height="18.56" fill="#f2b8b8"/>
<rect x="103.52" y="501.46" width="7.16" height="18.56" fill="#f2b8b8"/>
<rect x="110.18" y="501.46" width="7.16" height="18.56" fill="#f5c8c8"/>
<rect x="116.84" y="501.46" width="7.16" height="18.56" fill="#e06868"/>
<rect x="123.50" y="501.46" width="7.16" height="18.56" fill="#dc4848"/>
<rect x="130.16" y="501.46" width="7.16" height="18.56" fill="#e05858"/>
<rect x="136.82" y="501.46" width="7.16" height="18.56" fill="#e06060"/>
<rect x="143.48" y="501.46" width="7.16" height="18.56" fill="#e06060"/>
<rect x="150.14" y="501.46" width="7.16" height="18.56" fill="#f8dcdc"/>
<rect x="156.80" y="501.46" width="7.16" height="18.56" fill="#f2c0c0"/>
<rect x="163.46" y="501.46" width="7.16" height="18.56" fill="#f0a8a8"/>
<rect x="170.12" y="501.46" width="7.16" height="18.56" fill="#ee9c9c"/>
<rect x="176.78" y="501.46" width="6.66" height="18.56" fill="#f0a8a8"/>
<rect x="56.90" y="519.52" width="7.16" height="18.56" fill="#e0e0f0"/>
<rect x="63.56" y="519.52" width="7.16" height="18.56" fill="#6a6ab8"/>
<rect x="70.22" y="519.52" width="7.16" height="18.56" fill="#12126a"/>
<rect x="76.88" y="519.52" width="7.16" height="18.56" fill="#ffffff"/>
<rect x="83.54" y="519.52" width="7.16" height="18.56" fill="#f0a8a8"/>
<rect x="90.20" y="519.52" width="7.16" height="18.56" fill="#f0a8a8"/>
<rect x="96.86" y="519.52" width="7.16" height="18.56" fill="#e06060"/>
<rect x="103.52" y="519.52" width="7.16" height="18.56" fill="#e47070"/>
<rect x="110.18" y="519.52" width="7.16" height="18.56" fill="#e47070"/>
<rect x="116.84" y="519.52" width="7.16" height="18.56" fill="#f5c8c8"/>
<rect x="123.50" y="519.52" width="7.16" height="18.56" fill="#f2c0c0"/>
<rect x="130.16" y="519.52" width="7.16" height="18.56" fill="#f5cccc"/>
<rect x="136.82" y="519.52" width="7.16" height="18.56" fill="#f5c8c8"/>
<rect x="143.48" y="519.52" width="7.16" height="18.56" fill="#f8e0e0"/>
<rect x="150.14" y="519.52" width="7.16" height="18.56" fill="#f0a0a0"/>
<rect x="156.80" y="519.52" width="7.16" height="18.56" fill="#e88888"/>
<rect x="163.46" y="519.52" width="7.16" height="18.56" fill="#e88080"/>
<rect x="170.12" y="519.52" width="7.16" height="18.56" fill="#ee9898"/>
<rect x="176.78" y="519.52" width="6.66" height="18.56" fill="#e47878"/>
<rect x="56.90" y="537.58" width="7.16" height="18.56" fill="#2a2a90"/>
<rect x="63.56" y="537.58" width="7.16" height="18.56" fill="#6060b0"/>
<rect x="70.22" y="537.58" width="7.16" height="18.56" fill="#c8c8e4"/>
<rect x="76.88" y="537.58" width="7.16" height="18.56" fill="#a0a0d4"/>
<rect x="83.54" y="537.58" width="7.16" height="18.56" fill="#f5c8c8"/>
<rect x="90.20" y="537.58" width="7.16" height="18.56" fill="#f0a8a8"/>
<rect x="96.86" y="537.58" width="7.16" height="18.56" fill="#f0a8a8"/>
<rect x="103.52" y="537.58" width="7.16" height="18.56" fill="#e88080"/>
<rect x="110.18" y="537.58" width="7.16" height="18.56" fill="#f0a0a0"/>
<rect x="116.84" y="537.58" width="7.16" height="18.56" fill="#f8dcdc"/>
<rect x="123.50" y="537.58" width="7.16" height="18.56" fill="#f0a0a0"/>
<rect x="130.16" y="537.58" width="7.16" height="18.56" fill="#f2b0b0"/>
<rect x="136.82" y="537.58" width="7.16" height="18.56" fill="#f0a8a8"/>
<rect x="143.48" y="537.58" width="7.16" height="18.56" fill="#f0a8a8"/>
<rect x="150.14" y="537.58" width="7.16" height="18.56" fill="#f0a8a8"/>
<rect x="156.80" y="537.58" width="7.16" height="18.56" fill="#e88888"/>
<rect x="163.46" y="537.58" width="7.16" height="18.56" fill="#e47070"/>
<rect x="170.12" y="537.58" width="7.16" height="18.56" fill="#e47070"/>
<rect x="176.78" y="537.58" width="6.66" height="18.56" fill="#e06060"/>
<rect x="56.90" y="555.64" width="7.16" height="18.56" fill="#5050a8"/>
<rect x="63.56" y="555.64" width="7.16" height="18.56" fill="#a8a8d8"/>
<rect x="70.22" y="555.64" width="7.16" height="18.56" fill="#d8d8ec"/>
<rect x="76.88" y="555.64" width="7.16" height="18.56" fill="#a0a0d0"/>
<rect x="83.54" y="555.64" width="7.16" height="18.56" fill="#b8b8e0"/>
<rect x="90.20" y="555.64" width="7.16" height="18.56" fill="#b8b8e0"/>
<rect x="96.86" y="555.64" width="7.16" height="18.56" fill="#f2b0b0"/>
<rect x="103.52" y="555.64" width="7.16" height="18.56" fill="#f0a0a0"/>
<rect x="110.18" y="555.64" width="7.16" height="18.56" fill="#e88080"/>
<rect x="116.84" y="555.64" width="7.16" height="18.56" fill="#e47070"/>
<rect x="123.50" y="555.64" width="7.16" height="18.56" fill="#e88888"/>
<rect x="130.16" y="555.64" width="7.16" height="18.56" fill="#e06868"/>
<rect x="136.82" y="555.64" width="7.16" height="18.56" fill="#e88080"/>
<rect x="143.48" y="555.64" width="7.16" height="18.56" fill="#ee9090"/>
<rect x="150.14" y="555.64" width="7.16" height="18.56" fill="#f2b8b8"/>
<rect x="156.80" y="555.64" width="7.16" height="18.56" fill="#f0b0b0"/>
<rect x="163.46" y="555.64" width="7.16" height="18.56" fill="#ee9898"/>
<rect x="170.12" y="555.64" width="7.16" height="18.56" fill="#e47070"/>
<rect x="176.78" y="555.64" width="6.66" height="18.56" fill="#e06060"/>
<rect x="56.90" y="573.70" width="7.16" height="18.56" fill="#f8d8d8"/>
<rect x="63.56" y="573.70" width="7.16" height="18.56" fill="#f8d8d8"/>
<rect x="70.22" y="573.70" width="7.16" height="18.56" fill="#f0a0a0"/>
<rect x="76.88" y="573.70" width="7.16" height="18.56" fill="#f2c0c0"/>
<rect x="83.54" y="573.70" width="7.16" height="18.56" fill="#f0a0a0"/>
<rect x="90.20" y="573.70" width="7.16" height="18.56" fill="#eea0a0"/>
<rect x="96.86" y="573.70" width="7.16" height="18.56" fill="#4545a5"/>
<rect x="103.52" y="573.70" width="7.16" height="18.56" fill="#4545a5"/>
<rect x="110.18" y="573.70" width="7.16" height="18.56" fill="#d8d8ee"/>
<rect x="116.84" y="573.70" width="7.16" height="18.56" fill="#e0e0f0"/>
<rect x="123.50" y="573.70" width="7.16" height="18.56" fill="#f5c8c8"/>
<rect x="130.16" y="573.70" width="7.16" height="18.56" fill="#f5c8c8"/>
<rect x="136.82" y="573.70" width="7.16" height="18.56" fill="#fcecec"/>
<rect x="143.48" y="573.70" width="7.16" height="18.56" fill="#f5cccc"/>
<rect x="150.14" y="573.70" width="7.16" height="18.56" fill="#dc4848"/>
<rect x="156.80" y="573.70" width="7.16" height="18.56" fill="#d42828"/>
<rect x="163.46" y="573.70" width="7.16" height="18.56" fill="#e47070"/>
<rect x="170.12" y="573.70" width="7.16" height="18.56" fill="#e88080"/>
<rect x="176.78" y="573.70" width="6.66" height="18.56" fill="#e47070"/>
<rect x="56.90" y="591.76" width="7.16" height="18.06" fill="#d83030"/>
<rect x="63.56" y="591.76" width="7.16" height="18.06" fill="#d83030"/>
<rect x="70.22" y="591.76" width="7.16" height="18.06" fill="#dc5050"/>
<rect x="76.88" y="591.76" width="7.16" height="18.06" fill="#d42020"/>
<rect x="83.54" y="591.76" width="7.16" height="18.06" fill="#ee9090"/>
<rect x="90.20" y="591.76" width="7.16" height="18.06" fill="#e88080"/>
<rect x="96.86" y="591.76" width="7.16" height="18.06" fill="#fafaff"/>
<rect x="103.52" y="591.76" width="7.16" height="18.06" fill="#b8b8e0"/>
<rect x="110.18" y="591.76" width="7.16" height="18.06" fill="#f2f2fa"/>
<rect x="116.84" y="591.76" width="7.16" height="18.06" fill="#f2f2fa"/>
<rect x="123.50" y="591.76" width="7.16" height="18.06" fill="#fafaff"/>
<rect x="130.16" y="591.76" width="7.16" height="18.06" fill="#f2f2fa"/>
<rect x="136.82" y="591.76" width="7.16" height="18.06" fill="#f0f0f8"/>
<rect x="143.48" y="591.76" width="7.16" height="18.06" fill="#f5f5fc"/>
<rect x="150.14" y="591.76" width="7.16" height="18.06" fill="#ee9898"/>
<rect x="156.80" y="591.76" width="7.16" height="18.06" fill="#f0a8a8"/>
<rect x="163.46" y="591.76" width="7.16" height="18.06" fill="#fae8e8"/>
<rect x="170.12" y="591.76" width="7.16" height="18.06" fill="#c0c0e4"/>
<rect x="176.78" y="591.76" width="6.66" height="18.06" fill="#b0b0dc"/>
<rect x="56.90" y="475.80" width="20.03" height="6.10" fill="#b39579"/>
<rect x="76.88" y="475.80" width="20.03" height="6.10" fill="#e77d85"/>
<rect x="96.86" y="475.80" width="20.03" height="6.10" fill="#e1d4c8"/>
<rect x="116.84" y="475.80" width="33.35" height="6.10" fill="#f5c9cd"/>
<rect x="150.14" y="475.80" width="33.35" height="6.10" fill="#9c9c9c"/>
<path d="M60.23,473.80V463.40M66.89,473.80V463.40M60.23,463.40H66.89M63.56,463.40V457.00M73.55,473.80V457.00M63.56,457.00H73.55M86.87,473.80V467.80M93.53,473.80V467.80M86.87,467.80H93.53M80.21,473.80V451.50M90.20,467.80V451.50M80.21,451.50H90.20M68.56,457.00V447.20M85.21,451.50V447.20M68.56,447.20H85.21M100.19,473.80V468.30M106.85,473.80V468.30M100.19,468.30H106.85M103.52,468.30V463.60M113.51,473.80V463.60M103.52,463.60H113.51M126.83,473.80V470.40M133.49,473.80V470.40M126.83,470.40H133.49M140.15,473.80V470.40M146.81,473.80V470.40M140.15,470.40H146.81M130.16,470.40V470.00M143.48,470.40V470.00M130.16,470.00H143.48M120.17,473.80V466.40M132.50,470.00V466.40M120.17,466.40H132.50M153.47,473.80V468.80M160.13,473.80V468.80M153.47,468.80H160.13M173.45,473.80V470.50M180.11,473.80V470.50M173.45,470.50H180.11M166.79,473.80V466.40M176.78,470.50V466.40M166.79,466.40H176.78M156.80,468.80V460.50M171.78,466.40V460.50M156.80,460.50H171.78M126.34,466.40V457.40M164.29,460.50V457.40M126.34,457.40H164.29M108.51,463.60V453.40M145.31,457.40V453.40M108.51,453.40H145.31M76.88,447.20V437.40M126.91,453.40V437.40M76.88,437.40H126.91M45.10,492.43H55.50M45.10,510.49H55.50M45.10,492.43V510.49M42.40,546.61H55.50M42.40,564.67H55.50M42.40,546.61V564.67M37.90,528.55H55.50M37.90,555.64H42.40M37.90,528.55V555.64M34.60,501.46H45.10M34.60,542.10H37.90M34.60,501.46V542.10M28.60,582.73H55.50M28.60,600.79H55.50M28.60,582.73V600.79M18.60,521.78H34.60M18.60,591.76H28.60M18.60,521.78V591.76" fill="none" stroke="#222" stroke-width="0.95" stroke-linecap="square"/>
<text transform="translate(9.60,443.70) scale(1,1.1)" font-size="7.8" font-style="italic" fill="#222" stroke="#222" stroke-width="0.06" textLength="64.4" lengthAdjust="spacingAndGlyphs">Thrombocytopenic</text>
<text transform="translate(130.90,439.10) scale(1,1.1)" font-size="7.8" font-style="italic" fill="#222" stroke="#222" stroke-width="0.06">Normal</text>
<text transform="translate(130.90,449.20) scale(1,1.1)" font-size="7.8" font-style="italic" fill="#222" stroke="#222" stroke-width="0.06">PLT count</text>
<defs><linearGradient id="hmg" x1="0" x2="1" y1="0" y2="0"><stop offset="0" stop-color="#1c1c78"/><stop offset="0.25" stop-color="#7070b8"/><stop offset="0.49" stop-color="#ffffff"/><stop offset="0.75" stop-color="#e89090"/><stop offset="1" stop-color="#e31a1c"/></linearGradient></defs>
<rect x="10.4" y="454.4" width="36" height="19.4" fill="url(#hmg)" stroke="#111" stroke-width="0.9"/>
<line x1="17.30" y1="474.30" x2="17.30" y2="477.30" stroke="#111" stroke-width="0.9"/>
<text transform="translate(17.30,483.80) scale(1,1.1)" font-size="6.3" text-anchor="middle" stroke="#111" stroke-width="0.15">−2</text>
<line x1="25.40" y1="474.30" x2="25.40" y2="477.30" stroke="#111" stroke-width="0.9"/>
<text transform="translate(25.40,483.80) scale(1,1.1)" font-size="6.3" text-anchor="middle" stroke="#111" stroke-width="0.15">−1</text>
<line x1="33.20" y1="474.30" x2="33.20" y2="477.30" stroke="#111" stroke-width="0.9"/>
<text transform="translate(33.20,483.80) scale(1,1.1)" font-size="6.3" text-anchor="middle" stroke="#111" stroke-width="0.15">0</text>
<line x1="40.90" y1="474.30" x2="40.90" y2="477.30" stroke="#111" stroke-width="0.9"/>
<text transform="translate(40.90,483.80) scale(1,1.1)" font-size="6.3" text-anchor="middle" stroke="#111" stroke-width="0.15">1</text>
<rect x="186.50" y="434.80" width="3.60" height="3.60" fill="#9c9c9c"/>
<text transform="translate(193.10,439.00) scale(1,1.1)" font-size="6.9" fill="#222" stroke="#222" stroke-width="0.15">Controls</text>
<rect x="186.50" y="445.40" width="3.60" height="3.60" fill="#b39579"/>
<text transform="translate(193.10,449.60) scale(1,1.1)" font-size="6.9" fill="#222" stroke="#222" stroke-width="0.15">P-ITP D3</text>
<rect x="186.50" y="453.60" width="3.60" height="3.60" fill="#e1d4c8"/>
<text transform="translate(193.10,457.80) scale(1,1.1)" font-size="6.9" fill="#222" stroke="#222" stroke-width="0.15">P-ITP D7</text>
<rect x="186.50" y="463.60" width="3.60" height="3.60" fill="#e77d85"/>
<text transform="translate(193.10,467.80) scale(1,1.1)" font-size="6.9" fill="#222" stroke="#222" stroke-width="0.15">A-ITP</text>
<rect x="186.50" y="471.70" width="3.60" height="3.60" fill="#f5c9cd"/>
<text transform="translate(193.10,475.90) scale(1,1.1)" font-size="6.9" fill="#222" stroke="#222" stroke-width="0.15">A-ITP IVIg</text>
<text transform="translate(187.00,493.73) scale(1,1.1)" font-size="6.75" fill="#1a1a1a" stroke="#1a1a1a" stroke-width="0.15">ME green</text>
<text transform="translate(187.00,511.79) scale(1,1.1)" font-size="6.75" fill="#1a1a1a" stroke="#1a1a1a" stroke-width="0.15">ME pink</text>
<text transform="translate(187.00,529.85) scale(1,1.1)" font-size="6.75" fill="#1a1a1a" stroke="#1a1a1a" stroke-width="0.15">ME magenta</text>
<text transform="translate(187.00,547.91) scale(1,1.1)" font-size="6.75" fill="#1a1a1a" stroke="#1a1a1a" stroke-width="0.15">ME red</text>
<text transform="translate(187.00,565.97) scale(1,1.1)" font-size="6.75" fill="#1a1a1a" stroke="#1a1a1a" stroke-width="0.15">ME black</text>
<text transform="translate(187.00,584.03) scale(1,1.1)" font-size="6.75" fill="#1a1a1a" stroke="#1a1a1a" stroke-width="0.15">ME grey</text>
<text transform="translate(187.00,602.09) scale(1,1.1)" font-size="6.75" fill="#1a1a1a" stroke="#1a1a1a" stroke-width="0.15">ME brown</text>
<text transform="translate(60.73,615.20) rotate(-56)" font-size="6.0" text-anchor="end" fill="#1a1a1a" stroke="#1a1a1a" stroke-width="0.3">P-ITP D3 #3</text>
<text transform="translate(67.39,615.20) rotate(-56)" font-size="6.0" text-anchor="end" fill="#1a1a1a" stroke="#1a1a1a" stroke-width="0.3">P-ITP D3 #1</text>
<text transform="translate(74.05,615.20) rotate(-56)" font-size="6.0" text-anchor="end" fill="#1a1a1a" stroke="#1a1a1a" stroke-width="0.3">P-ITP D3 #2</text>
<text transform="translate(80.71,615.20) rotate(-56)" font-size="6.0" text-anchor="end" fill="#1a1a1a" stroke="#1a1a1a" stroke-width="0.3">A-ITP #5</text>
<text transform="translate(87.37,615.20) rotate(-56)" font-size="6.0" text-anchor="end" fill="#1a1a1a" stroke="#1a1a1a" stroke-width="0.3">A-ITP #2</text>
<text transform="translate(94.03,615.20) rotate(-56)" font-size="6.0" text-anchor="end" fill="#1a1a1a" stroke="#1a1a1a" stroke-width="0.3">A-ITP #3</text>
<text transform="translate(100.69,615.20) rotate(-56)" font-size="6.0" text-anchor="end" fill="#1a1a1a" stroke="#1a1a1a" stroke-width="0.3">P-ITP D7 #3</text>
<text transform="translate(107.35,615.20) rotate(-56)" font-size="6.0" text-anchor="end" fill="#1a1a1a" stroke="#1a1a1a" stroke-width="0.3">P-ITP D7 #2</text>
<text transform="translate(114.01,615.20) rotate(-56)" font-size="6.0" text-anchor="end" fill="#1a1a1a" stroke="#1a1a1a" stroke-width="0.3">P-ITP D7 #1</text>
<text transform="translate(120.67,615.20) rotate(-56)" font-size="6.0" text-anchor="end" fill="#1a1a1a" stroke="#1a1a1a" stroke-width="0.3">A-ITP IVIg #5</text>
<text transform="translate(127.33,615.20) rotate(-56)" font-size="6.0" text-anchor="end" fill="#1a1a1a" stroke="#1a1a1a" stroke-width="0.3">A-ITP IVIg #3</text>
<text transform="translate(133.99,615.20) rotate(-56)" font-size="6.0" text-anchor="end" fill="#1a1a1a" stroke="#1a1a1a" stroke-width="0.3">A-ITP IVIg #1</text>
<text transform="translate(140.65,615.20) rotate(-56)" font-size="6.0" text-anchor="end" fill="#1a1a1a" stroke="#1a1a1a" stroke-width="0.3">A-ITP IVIg #4</text>
<text transform="translate(147.31,615.20) rotate(-56)" font-size="6.0" text-anchor="end" fill="#1a1a1a" stroke="#1a1a1a" stroke-width="0.3">A-ITP IVIg #2</text>
<text transform="translate(153.97,615.20) rotate(-56)" font-size="6.0" text-anchor="end" fill="#1a1a1a" stroke="#1a1a1a" stroke-width="0.3">C D3 #3</text>
<text transform="translate(160.63,615.20) rotate(-56)" font-size="6.0" text-anchor="end" fill="#1a1a1a" stroke="#1a1a1a" stroke-width="0.3">C D3 #2</text>
<text transform="translate(167.29,615.20) rotate(-56)" font-size="6.0" text-anchor="end" fill="#1a1a1a" stroke="#1a1a1a" stroke-width="0.3">C D7 #1</text>
<text transform="translate(173.95,615.20) rotate(-56)" font-size="6.0" text-anchor="end" fill="#1a1a1a" stroke="#1a1a1a" stroke-width="0.3">C D7 #3</text>
<text transform="translate(180.61,615.20) rotate(-56)" font-size="6.0" text-anchor="end" fill="#1a1a1a" stroke="#1a1a1a" stroke-width="0.3">C D7 #2</text>
<text transform="translate(290.10,462.70) scale(1,1.1)" font-size="8.8" fill="#1a1a1a" stroke="#1a1a1a" stroke-width="0.15">Module-trait relationships</text>
<rect x="274.10" y="468.40" width="14.20" height="21.39" fill="#7b3e21"/>
<text transform="translate(270.50,480.04) scale(1,1.1)" font-size="6.9" text-anchor="end" fill="#1a1a1a" stroke="#1a1a1a" stroke-width="0.15">ME brown</text>
<rect x="291.10" y="468.40" width="48.20" height="21.39" fill="#9fcaee"/>
<text transform="translate(314.95,477.74) scale(1,1.1)" font-size="7.1" text-anchor="middle" fill="#1a1a1a" stroke="#1a1a1a" stroke-width="0.15">−0.39</text>
<text transform="translate(314.95,486.14) scale(1,1.1)" font-size="7.1" text-anchor="middle" fill="#1a1a1a" stroke="#1a1a1a" stroke-width="0.15">(0.1)</text>
<rect x="338.80" y="468.40" width="48.20" height="21.39" fill="#b2d6f2"/>
<text transform="translate(362.65,477.74) scale(1,1.1)" font-size="7.1" text-anchor="middle" fill="#1a1a1a" stroke="#1a1a1a" stroke-width="0.15">−0.36</text>
<text transform="translate(362.65,486.14) scale(1,1.1)" font-size="7.1" text-anchor="middle" fill="#1a1a1a" stroke="#1a1a1a" stroke-width="0.15">(0.1)</text>
<rect x="386.50" y="468.40" width="48.20" height="21.39" fill="#f0643e"/>
<text transform="translate(410.35,477.74) scale(1,1.1)" font-size="7.1" text-anchor="middle" fill="#1a1a1a" stroke="#1a1a1a" stroke-width="0.15">0.47</text>
<text transform="translate(410.35,486.14) scale(1,1.1)" font-size="7.1" text-anchor="middle" fill="#1a1a1a" stroke="#1a1a1a" stroke-width="0.15">(0.04)</text>
<rect x="434.20" y="468.40" width="47.70" height="21.39" fill="#e8361f"/>
<text transform="translate(458.05,477.74) scale(1,1.1)" font-size="7.1" text-anchor="middle" fill="#1a1a1a" stroke="#1a1a1a" stroke-width="0.15">0.63</text>
<text transform="translate(458.05,486.14) scale(1,1.1)" font-size="7.1" text-anchor="middle" fill="#1a1a1a" stroke="#1a1a1a" stroke-width="0.15">(0.004)</text>
<rect x="274.10" y="489.29" width="14.20" height="21.39" fill="#97cc86"/>
<text transform="translate(270.50,500.93) scale(1,1.1)" font-size="6.9" text-anchor="end" fill="#1a1a1a" stroke="#1a1a1a" stroke-width="0.15">ME green</text>
<rect x="291.10" y="489.29" width="48.20" height="21.39" fill="#e8361f"/>
<text transform="translate(314.95,498.63) scale(1,1.1)" font-size="7.1" text-anchor="middle" fill="#1a1a1a" stroke="#1a1a1a" stroke-width="0.15">0.63</text>
<text transform="translate(314.95,507.03) scale(1,1.1)" font-size="7.1" text-anchor="middle" fill="#1a1a1a" stroke="#1a1a1a" stroke-width="0.15">(0.004)</text>
<rect x="338.80" y="489.29" width="48.20" height="21.39" fill="#fcd8cd"/>
<text transform="translate(362.65,498.63) scale(1,1.1)" font-size="7.1" text-anchor="middle" fill="#1a1a1a" stroke="#1a1a1a" stroke-width="0.15">0.053</text>
<text transform="translate(362.65,507.03) scale(1,1.1)" font-size="7.1" text-anchor="middle" fill="#1a1a1a" stroke="#1a1a1a" stroke-width="0.15">(0.8)</text>
<rect x="386.50" y="489.29" width="48.20" height="21.39" fill="#3b7dc8"/>
<text transform="translate(410.35,498.63) scale(1,1.1)" font-size="7.1" text-anchor="middle" fill="#1a1a1a" stroke="#1a1a1a" stroke-width="0.15">−0.76</text>
<text transform="translate(410.35,507.03) scale(1,1.1)" font-size="7.1" text-anchor="middle" fill="#1a1a1a" stroke="#1a1a1a" stroke-width="0.15">(2e-04)</text>
<rect x="434.20" y="489.29" width="47.70" height="21.39" fill="#d6e7f8"/>
<text transform="translate(458.05,498.63) scale(1,1.1)" font-size="7.1" text-anchor="middle" fill="#1a1a1a" stroke="#1a1a1a" stroke-width="0.15">−0.24</text>
<text transform="translate(458.05,507.03) scale(1,1.1)" font-size="7.1" text-anchor="middle" fill="#1a1a1a" stroke="#1a1a1a" stroke-width="0.15">(0.3)</text>
<rect x="274.10" y="510.18" width="14.20" height="21.39" fill="#f7b9c9"/>
<text transform="translate(270.50,521.83) scale(1,1.1)" font-size="6.9" text-anchor="end" fill="#1a1a1a" stroke="#1a1a1a" stroke-width="0.15">ME pink</text>
<rect x="291.10" y="510.18" width="48.20" height="21.39" fill="#e72a1a"/>
<text transform="translate(314.95,519.52) scale(1,1.1)" font-size="7.1" text-anchor="middle" fill="#1a1a1a" stroke="#1a1a1a" stroke-width="0.15">0.68</text>
<text transform="translate(314.95,527.92) scale(1,1.1)" font-size="7.1" text-anchor="middle" fill="#1a1a1a" stroke="#1a1a1a" stroke-width="0.15">(0.001)</text>
<rect x="338.80" y="510.18" width="48.20" height="21.39" fill="#fcd6cb"/>
<text transform="translate(362.65,519.52) scale(1,1.1)" font-size="7.1" text-anchor="middle" fill="#1a1a1a" stroke="#1a1a1a" stroke-width="0.15">0.062</text>
<text transform="translate(362.65,527.92) scale(1,1.1)" font-size="7.1" text-anchor="middle" fill="#1a1a1a" stroke="#1a1a1a" stroke-width="0.15">(0.8)</text>
<rect x="386.50" y="510.18" width="48.20" height="21.39" fill="#3173c2"/>
<text transform="translate(410.35,519.52) scale(1,1.1)" font-size="7.1" text-anchor="middle" fill="#1a1a1a" stroke="#1a1a1a" stroke-width="0.15">−0.82</text>
<text transform="translate(410.35,527.92) scale(1,1.1)" font-size="7.1" text-anchor="middle" fill="#1a1a1a" stroke="#1a1a1a" stroke-width="0.15">(2e-05)</text>
<rect x="434.20" y="510.18" width="47.70" height="21.39" fill="#d9e9f8"/>
<text transform="translate(458.05,519.52) scale(1,1.1)" font-size="7.1" text-anchor="middle" fill="#1a1a1a" stroke="#1a1a1a" stroke-width="0.15">−0.22</text>
<text transform="translate(458.05,527.92) scale(1,1.1)" font-size="7.1" text-anchor="middle" fill="#1a1a1a" stroke="#1a1a1a" stroke-width="0.15">(0.4)</text>
<rect x="274.10" y="531.07" width="14.20" height="21.39" fill="#a23ea6"/>
<text transform="translate(270.50,542.72) scale(1,1.1)" font-size="6.9" text-anchor="end" fill="#1a1a1a" stroke="#1a1a1a" stroke-width="0.15">ME magenta</text>
<rect x="291.10" y="531.07" width="48.20" height="21.39" fill="#fde7e0"/>
<text transform="translate(314.95,540.41) scale(1,1.1)" font-size="7.1" text-anchor="middle" fill="#1a1a1a" stroke="#1a1a1a" stroke-width="0.15">0.021</text>
<text transform="translate(314.95,548.81) scale(1,1.1)" font-size="7.1" text-anchor="middle" fill="#1a1a1a" stroke="#1a1a1a" stroke-width="0.15">(0.9)</text>
<rect x="338.80" y="531.07" width="48.20" height="21.39" fill="#f27c5c"/>
<text transform="translate(362.65,540.41) scale(1,1.1)" font-size="7.1" text-anchor="middle" fill="#1a1a1a" stroke="#1a1a1a" stroke-width="0.15">0.38</text>
<text transform="translate(362.65,548.81) scale(1,1.1)" font-size="7.1" text-anchor="middle" fill="#1a1a1a" stroke="#1a1a1a" stroke-width="0.15">(0.1)</text>
<rect x="386.50" y="531.07" width="48.20" height="21.39" fill="#fdf3f0"/>
<text transform="translate(410.35,540.41) scale(1,1.1)" font-size="7.1" text-anchor="middle" fill="#1a1a1a" stroke="#1a1a1a" stroke-width="0.15">−0.025</text>
<text transform="translate(410.35,548.81) scale(1,1.1)" font-size="7.1" text-anchor="middle" fill="#1a1a1a" stroke="#1a1a1a" stroke-width="0.15">(0.9)</text>
<rect x="434.20" y="531.07" width="47.70" height="21.39" fill="#2e6ebf"/>
<text transform="translate(458.05,540.41) scale(1,1.1)" font-size="7.1" text-anchor="middle" fill="#1a1a1a" stroke="#1a1a1a" stroke-width="0.15">−0.85</text>
<text transform="translate(458.05,548.81) scale(1,1.1)" font-size="7.1" text-anchor="middle" fill="#1a1a1a" stroke="#1a1a1a" stroke-width="0.15">(5e-06)</text>
<rect x="274.10" y="551.96" width="14.20" height="21.39" fill="#1b1b1b"/>
<text transform="translate(270.50,563.61) scale(1,1.1)" font-size="6.9" text-anchor="end" fill="#1a1a1a" stroke="#1a1a1a" stroke-width="0.15">ME black</text>
<rect x="291.10" y="551.96" width="48.20" height="21.39" fill="#f0643e"/>
<text transform="translate(314.95,561.31) scale(1,1.1)" font-size="7.1" text-anchor="middle" fill="#1a1a1a" stroke="#1a1a1a" stroke-width="0.15">0.47</text>
<text transform="translate(314.95,569.71) scale(1,1.1)" font-size="7.1" text-anchor="middle" fill="#1a1a1a" stroke="#1a1a1a" stroke-width="0.15">(0.04)</text>
<rect x="338.80" y="551.96" width="48.20" height="21.39" fill="#f9b5a3"/>
<text transform="translate(362.65,561.31) scale(1,1.1)" font-size="7.1" text-anchor="middle" fill="#1a1a1a" stroke="#1a1a1a" stroke-width="0.15">0.21</text>
<text transform="translate(362.65,569.71) scale(1,1.1)" font-size="7.1" text-anchor="middle" fill="#1a1a1a" stroke="#1a1a1a" stroke-width="0.15">(0.4)</text>
<rect x="386.50" y="551.96" width="48.20" height="21.39" fill="#6fa8e0"/>
<text transform="translate(410.35,561.31) scale(1,1.1)" font-size="7.1" text-anchor="middle" fill="#1a1a1a" stroke="#1a1a1a" stroke-width="0.15">−0.57</text>
<text transform="translate(410.35,569.71) scale(1,1.1)" font-size="7.1" text-anchor="middle" fill="#1a1a1a" stroke="#1a1a1a" stroke-width="0.15">(0.01)</text>
<rect x="434.20" y="551.96" width="47.70" height="21.39" fill="#5a97d8"/>
<text transform="translate(458.05,561.31) scale(1,1.1)" font-size="7.1" text-anchor="middle" fill="#1a1a1a" stroke="#1a1a1a" stroke-width="0.15">−0.64</text>
<text transform="translate(458.05,569.71) scale(1,1.1)" font-size="7.1" text-anchor="middle" fill="#1a1a1a" stroke="#1a1a1a" stroke-width="0.15">(0.003)</text>
<rect x="274.10" y="572.85" width="14.20" height="21.39" fill="#ef6070"/>
<text transform="translate(270.50,584.50) scale(1,1.1)" font-size="6.9" text-anchor="end" fill="#1a1a1a" stroke="#1a1a1a" stroke-width="0.15">ME red</text>
<rect x="291.10" y="572.85" width="48.20" height="21.39" fill="#fbcbbd"/>
<text transform="translate(314.95,582.20) scale(1,1.1)" font-size="7.1" text-anchor="middle" fill="#1a1a1a" stroke="#1a1a1a" stroke-width="0.15">0.14</text>
<text transform="translate(314.95,590.60) scale(1,1.1)" font-size="7.1" text-anchor="middle" fill="#1a1a1a" stroke="#1a1a1a" stroke-width="0.15">(0.6)</text>
<rect x="338.80" y="572.85" width="48.20" height="21.39" fill="#f8a893"/>
<text transform="translate(362.65,582.20) scale(1,1.1)" font-size="7.1" text-anchor="middle" fill="#1a1a1a" stroke="#1a1a1a" stroke-width="0.15">0.24</text>
<text transform="translate(362.65,590.60) scale(1,1.1)" font-size="7.1" text-anchor="middle" fill="#1a1a1a" stroke="#1a1a1a" stroke-width="0.15">(0.3)</text>
<rect x="386.50" y="572.85" width="48.20" height="21.39" fill="#e6f1fa"/>
<text transform="translate(410.35,582.20) scale(1,1.1)" font-size="7.1" text-anchor="middle" fill="#1a1a1a" stroke="#1a1a1a" stroke-width="0.15">−0.17</text>
<text transform="translate(410.35,590.60) scale(1,1.1)" font-size="7.1" text-anchor="middle" fill="#1a1a1a" stroke="#1a1a1a" stroke-width="0.15">(0.5)</text>
<rect x="434.20" y="572.85" width="47.70" height="21.39" fill="#3474c2"/>
<text transform="translate(458.05,582.20) scale(1,1.1)" font-size="7.1" text-anchor="middle" fill="#1a1a1a" stroke="#1a1a1a" stroke-width="0.15">−0.81</text>
<text transform="translate(458.05,590.60) scale(1,1.1)" font-size="7.1" text-anchor="middle" fill="#1a1a1a" stroke="#1a1a1a" stroke-width="0.15">(2e-05)</text>
<rect x="274.10" y="593.74" width="14.20" height="20.89" fill="#a0a0a0"/>
<text transform="translate(270.50,605.39) scale(1,1.1)" font-size="6.9" text-anchor="end" fill="#1a1a1a" stroke="#1a1a1a" stroke-width="0.15">ME grey</text>
<rect x="291.10" y="593.74" width="48.20" height="20.89" fill="#ecf4fb"/>
<text transform="translate(314.95,603.09) scale(1,1.1)" font-size="7.1" text-anchor="middle" fill="#1a1a1a" stroke="#1a1a1a" stroke-width="0.15">−0.13</text>
<text transform="translate(314.95,611.49) scale(1,1.1)" font-size="7.1" text-anchor="middle" fill="#1a1a1a" stroke="#1a1a1a" stroke-width="0.15">(0.6)</text>
<rect x="338.80" y="593.74" width="48.20" height="20.89" fill="#3878c5"/>
<text transform="translate(362.65,603.09) scale(1,1.1)" font-size="7.1" text-anchor="middle" fill="#1a1a1a" stroke="#1a1a1a" stroke-width="0.15">−0.79</text>
<text transform="translate(362.65,611.49) scale(1,1.1)" font-size="7.1" text-anchor="middle" fill="#1a1a1a" stroke="#1a1a1a" stroke-width="0.15">(5e-05)</text>
<rect x="386.50" y="593.74" width="48.20" height="20.89" fill="#fbcec2"/>
<text transform="translate(410.35,603.09) scale(1,1.1)" font-size="7.1" text-anchor="middle" fill="#1a1a1a" stroke="#1a1a1a" stroke-width="0.15">0.16</text>
<text transform="translate(410.35,611.49) scale(1,1.1)" font-size="7.1" text-anchor="middle" fill="#1a1a1a" stroke="#1a1a1a" stroke-width="0.15">(0.5)</text>
<rect x="434.20" y="593.74" width="47.70" height="20.89" fill="#fdefea"/>
<text transform="translate(458.05,603.09) scale(1,1.1)" font-size="7.1" text-anchor="middle" fill="#1a1a1a" stroke="#1a1a1a" stroke-width="0.15">0.0074</text>
<text transform="translate(458.05,611.49) scale(1,1.1)" font-size="7.1" text-anchor="middle" fill="#1a1a1a" stroke="#1a1a1a" stroke-width="0.15">(1)</text>
<rect x="291.1" y="468.4" width="190.8" height="146.23000000000002" fill="none" stroke="#1a1a1a" stroke-width="1"/>
<defs><linearGradient id="cbg" x1="0" x2="0" y1="0" y2="1"><stop offset="0" stop-color="#e6301c"/><stop offset="0.2" stop-color="#f0745a"/><stop offset="0.43" stop-color="#fce4dc"/><stop offset="0.48" stop-color="#ffffff"/><stop offset="0.56" stop-color="#e4eef9"/><stop offset="0.78" stop-color="#7fb0e2"/><stop offset="1" stop-color="#2c6cbc"/></linearGradient></defs>
<rect x="487.6" y="477.2" width="6.6" height="129" fill="url(#cbg)" stroke="#555" stroke-width="0.8"/>
<line x1="494.20" y1="491.00" x2="496.40" y2="491.00" stroke="#222" stroke-width="0.9"/>
<text transform="translate(499.60,493.40) scale(1,1.1)" font-size="6.9" fill="#222" stroke="#222" stroke-width="0.15">0.5</text>
<line x1="494.20" y1="533.70" x2="496.40" y2="533.70" stroke="#222" stroke-width="0.9"/>
<text transform="translate(499.60,536.10) scale(1,1.1)" font-size="6.9" fill="#222" stroke="#222" stroke-width="0.15">0</text>
<line x1="494.20" y1="575.80" x2="496.40" y2="575.80" stroke="#222" stroke-width="0.9"/>
<text transform="translate(499.60,578.20) scale(1,1.1)" font-size="6.9" fill="#222" stroke="#222" stroke-width="0.15">−0.5</text>
<text transform="translate(314.95,627.00) scale(1,1.1)" font-size="7.7" text-anchor="middle" fill="#1a1a1a" stroke="#1a1a1a" stroke-width="0.15">A-ITP IVIg</text>
<text transform="translate(362.65,627.00) scale(1,1.1)" font-size="7.7" text-anchor="middle" fill="#1a1a1a" stroke="#1a1a1a" stroke-width="0.15">P-ITP D7</text>
<text transform="translate(410.35,627.00) scale(1,1.1)" font-size="7.7" text-anchor="middle" fill="#1a1a1a" stroke="#1a1a1a" stroke-width="0.15">A-ITP</text>
<text transform="translate(458.05,627.00) scale(1,1.1)" font-size="7.7" text-anchor="middle" fill="#1a1a1a" stroke="#1a1a1a" stroke-width="0.15">P-ITP D3</text>
<line x1="295.30" y1="631.40" x2="380.20" y2="631.40" stroke="#222" stroke-width="0.9"/>
<line x1="395.10" y1="631.40" x2="474.70" y2="631.40" stroke="#222" stroke-width="0.9"/>
<text transform="translate(337.70,641.10) scale(1,1.1)" font-size="7.9" text-anchor="middle" font-style="italic" fill="#222" stroke="#222" stroke-width="0.06">Normal PLT count</text>
<text transform="translate(435.00,641.10) scale(1,1.1)" font-size="7.9" text-anchor="middle" font-style="italic" fill="#222" stroke="#222" stroke-width="0.06">Thrombocytopenic</text>
<rect x="0.00" y="0.00" width="520.00" height="1.00" fill="#000"/>
<rect x="0.00" y="0.00" width="1.00" height="653.00" fill="#000"/>
<rect x="519.00" y="0.00" width="1.00" height="653.00" fill="#000"/>
<rect x="0.00" y="652.00" width="520.00" height="1.00" fill="#000"/></svg>
</body></html>
